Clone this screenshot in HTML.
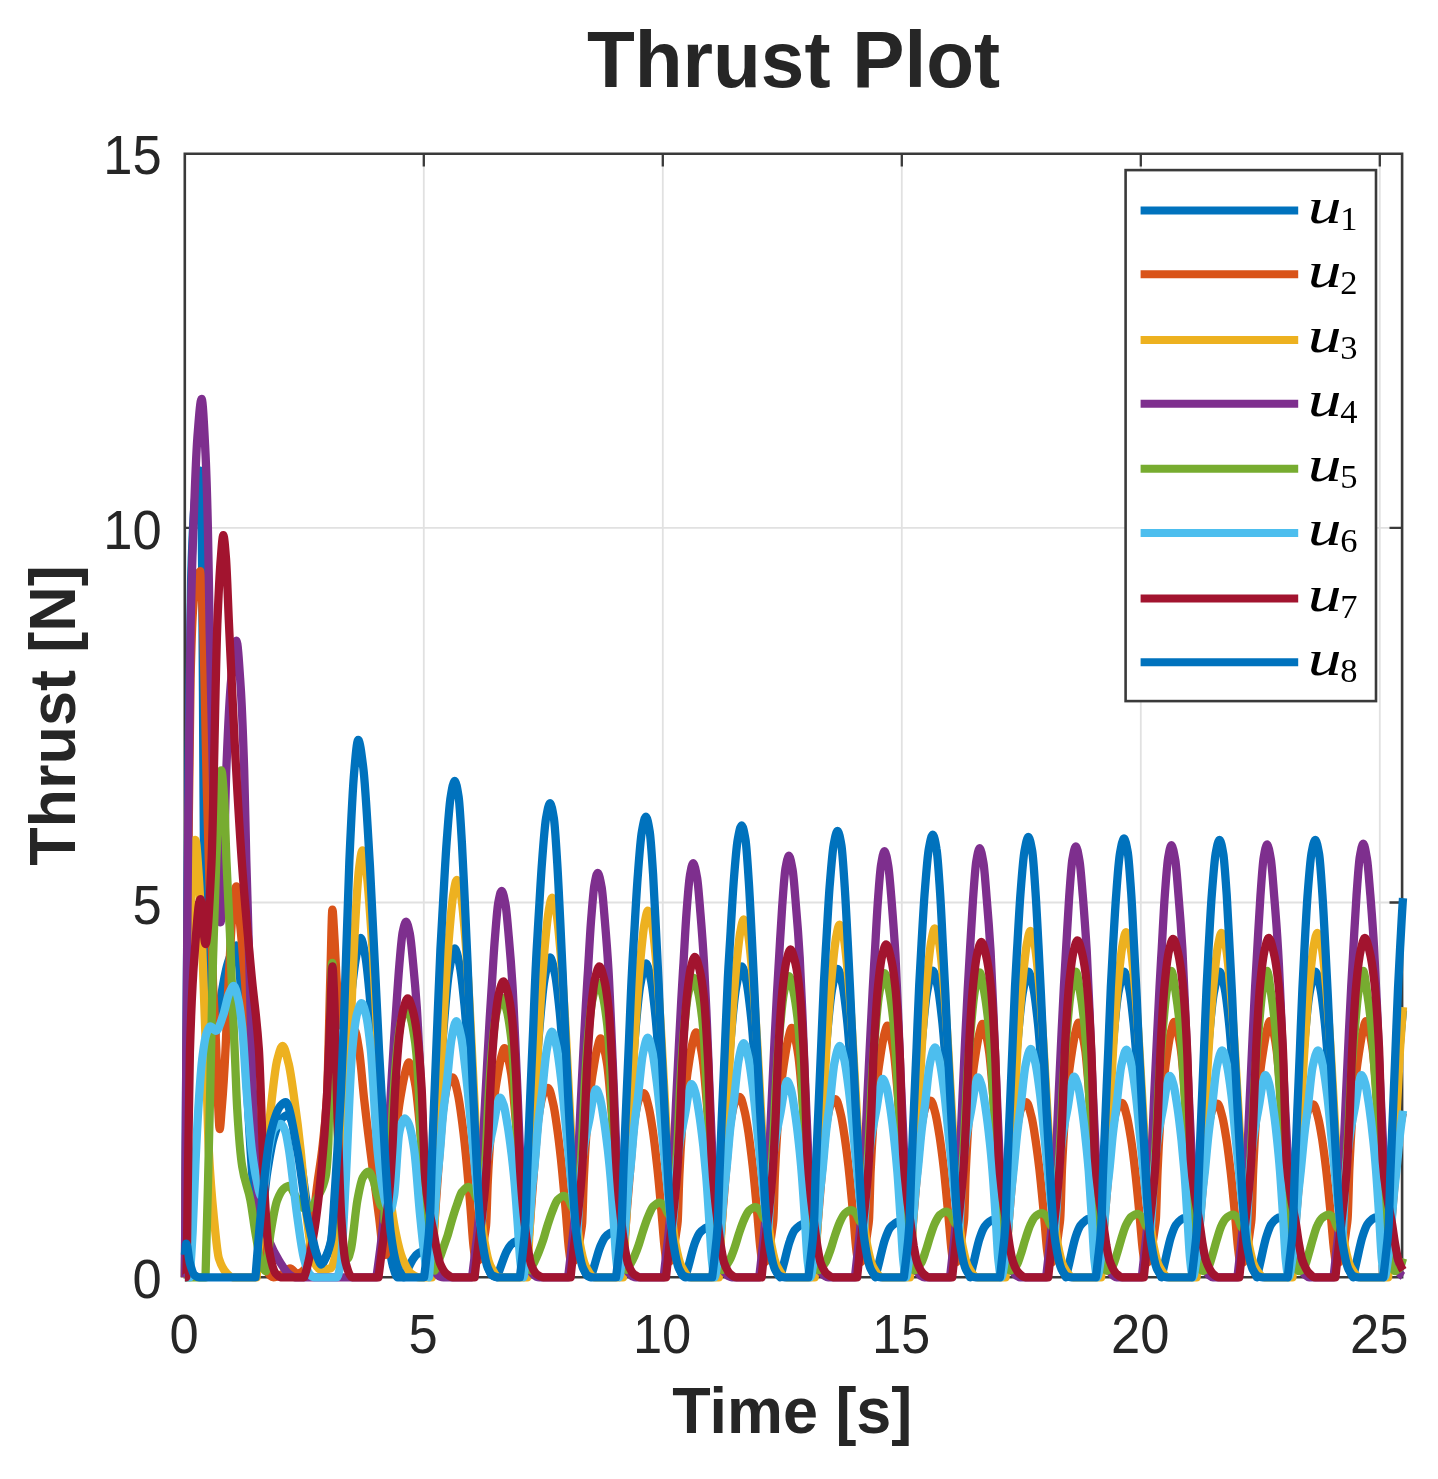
<!DOCTYPE html>
<html lang="en"><head><meta charset="utf-8"><title>Thrust Plot</title>
<style>
html,body{margin:0;padding:0;background:#fff;}
body{width:1438px;height:1479px;overflow:hidden;}
svg{display:block;}
.sans{font-family:"Liberation Sans",Arial,Helvetica,sans-serif;}
.tick{font-size:52.5px;fill:#262626;}
.lab{font-size:62.9px;font-weight:bold;fill:#262626;}
.title{font-size:78.3px;font-weight:bold;fill:#262626;}
.leg{font-family:"Liberation Serif","Times New Roman",serif;font-style:italic;font-size:50.5px;fill:#000;}
.sub{font-family:"Liberation Serif","Times New Roman",serif;font-size:34.5px;fill:#000;}
.curves path{fill:none;stroke-width:8.3;stroke-linejoin:round;stroke-linecap:butt;}
</style></head><body>
<svg width="1438" height="1479" viewBox="0 0 1438 1479">
<rect x="0" y="0" width="1438" height="1479" fill="#fff"/>
<path d="M423.8 153.8V1277.2M662.8 153.8V1277.2M901.8 153.8V1277.2M1140.8 153.8V1277.2M1379.8 153.8V1277.2M184.8 902.5H1402.1M184.8 527.9H1402.1" stroke="#e1e1e1" stroke-width="1.8" fill="none"/>
<path id="ticks" d="M423.8 153.8v12.6M423.8 1277.2v-12.6M662.8 153.8v12.6M662.8 1277.2v-12.6M901.8 153.8v12.6M901.8 1277.2v-12.6M1140.8 153.8v12.6M1140.8 1277.2v-12.6M1379.8 153.8v12.6M1379.8 1277.2v-12.6M184.8 902.5h12.6M1402.1 902.5h-12.6M184.8 527.9h12.6M1402.1 527.9h-12.6" stroke="#3a3a3a" stroke-width="2.3" fill="none"/>
<path id="axes" d="M184.8 153.8H1402.1V1277.2H184.8Z" stroke="#3a3a3a" stroke-width="2.6" fill="none"/>
<g class="curves">
<path d="M184.9 1277.3C185.4 1196.8 185.9 1119.8 186.3 1052.6C187.1 940.6 187.9 826 188.7 753.1C189.5 680.2 190.3 608.9 191.1 580.8C192.2 541.6 193.3 519 194.5 505.9C195.7 491 197 480.5 198.3 476C199 473.4 199.7 470.7 200.4 470.7C201 470.7 201.6 518.8 202.1 565.8C202.6 606.2 203.1 727.1 203.5 790.5C204.2 875.1 204.8 988.8 205.5 1007.7C206.6 1040.7 207.7 1060.1 208.8 1060.1C210.4 1060.1 212 1051.9 213.6 1045.1C215.3 1037.7 217.1 1020.2 218.8 1009.9C221.8 991.9 224.9 971.6 227.9 962.8C230.7 954.6 233.5 945.5 236.4 945.5C238.3 945.5 240.3 981.7 242.3 1007.7C243.9 1028.7 245.5 1063.9 247.1 1090.1C249 1121.5 250.9 1163 252.8 1179.9C254.4 1194 256 1209.9 257.6 1209.9C259.2 1209.9 260.8 1208.4 262.4 1206.2C264 1203.9 265.6 1182.3 267.2 1172.5C269.2 1159.7 271.3 1146.1 273.4 1138.8C275.8 1130.3 278.1 1122.8 280.5 1120C282.9 1117.3 285.3 1114.8 287.7 1114.8C291.4 1114.8 295 1134.1 298.7 1150C302.1 1164.5 305.4 1197.9 308.8 1216.6C311.1 1230 313.5 1243.8 315.9 1251.8C317 1255.6 318.2 1258.6 319.3 1260.8C320.1 1262.4 320.9 1264.6 321.7 1264.6C322.8 1264.6 323.9 1261.4 325 1259.3C326.1 1257.3 327.2 1255 328.4 1251.8C329.3 1249.2 330.3 1246.4 331.2 1241.4C332.5 1234.6 333.8 1216.8 335.1 1202.4C336.8 1182.6 338.6 1158.8 340.3 1135C342.4 1106.9 344.5 1070.2 346.5 1045.1C348.4 1022 350.4 1001.2 352.3 985.2C353.9 971.9 355.5 959.1 357.1 951.5C358.3 945.7 359.5 938 360.7 938C362.2 938 363.7 947.3 365.2 955.3C367.3 966.5 369.3 990.6 371.4 1015.2C373.8 1043.6 376.2 1094.2 378.6 1127.5C381 1160.8 383.4 1196.3 385.7 1217.4C388.1 1238.4 390.5 1258 392.9 1266.1C394.5 1271.5 396.1 1277.3 397.7 1277.3L403.7 1277.3C404.7 1275.3 405.7 1273.2 406.8 1271.2C408.9 1267 411.1 1261.8 413.2 1258.8C414.8 1256.6 416.4 1254.5 418 1253.5C419.6 1252.4 421.2 1251.7 422.8 1251.2C423.9 1250.8 425 1250.3 426.2 1250.3C427.4 1250.3 428.7 1251.1 430 1251.1C432.7 1251.1 435.4 1156.9 438.1 1112.9C439.9 1084.4 441.6 1052.6 443.4 1030.7C445.3 1006.9 447.2 982.6 449.1 971.5C451 960.5 452.9 948.5 454.8 948.5C456.4 948.5 458 957.2 459.6 965C461.2 972.7 462.8 988.3 464.4 1004.4C466 1020.5 467.6 1048.2 469.2 1066.9C470.6 1083.7 472.1 1096.1 473.5 1112.9C474.8 1127.9 476 1142.8 477.3 1162.2C478.1 1174.4 478.9 1195 479.7 1205.6C480.8 1220.5 481.9 1232.4 483.1 1240.1C485 1253.4 486.9 1262.7 488.8 1268.8C489.6 1271.3 490.4 1274 491.2 1274.7C493.1 1276.3 495 1277.3 496.9 1277.3C497.9 1274.5 499 1271.7 500 1268.9C502.1 1263.2 504.3 1256 506.4 1251.9C508 1248.8 509.6 1246 511.2 1244.5C512.8 1243.1 514.4 1242.1 516 1241.4C517.1 1240.9 518.2 1240.2 519.4 1240.2C520.6 1240.2 521.9 1241.3 523.2 1241.3C526.6 1241.3 530 1163.9 533.4 1117.4C535.2 1093.5 536.9 1058.7 538.7 1037.5C540.6 1014.3 542.5 990.6 544.4 979.9C546.3 969.2 548.2 957.5 550.1 957.5C551.7 957.5 553.3 966 554.9 973.5C556.5 981 558.1 996.2 559.7 1011.9C561.3 1027.6 562.9 1054.4 564.5 1072.6C565.9 1089 567.4 1101.1 568.8 1117.4C570.1 1131.9 571.3 1146.4 572.6 1165.4C573.4 1177.2 574.2 1197.2 575 1207.6C576.1 1222.1 577.2 1233.6 578.4 1241.2C580.3 1254.1 582.2 1263.1 584.1 1269C584.9 1271.4 585.7 1274 586.5 1274.7C588 1276.2 589.4 1277.3 590.9 1277.3C592 1273.8 593 1270.4 594 1267C596.2 1259.9 598.3 1251.1 600.5 1246C602.1 1242.2 603.7 1238.7 605.3 1236.9C606.9 1235.1 608.5 1234 610 1233.1C611.2 1232.5 612.3 1231.6 613.4 1231.6C614.7 1231.6 615.9 1233 617.2 1233C621.2 1233 625.2 1167.9 629.2 1120.4C631 1099.6 632.8 1062.8 634.5 1042C636.4 1019.2 638.3 996 640.2 985.5C642.2 974.9 644.1 963.5 646 963.5C647.6 963.5 649.2 971.8 650.8 979.2C652.4 986.6 654 1001.5 655.5 1016.9C657.1 1032.2 658.7 1058.6 660.3 1076.5C661.8 1092.5 663.2 1104.4 664.6 1120.4C665.9 1134.7 667.2 1148.9 668.5 1167.5C669.3 1179.1 670 1198.7 670.8 1208.9C672 1223.1 673.1 1234.5 674.2 1241.8C676.1 1254.5 678 1263.4 679.9 1269.1C680.7 1271.5 681.5 1273.8 682.3 1274.8C683.3 1276.1 684.3 1277.3 685.4 1277.3C686.4 1273.5 687.4 1269.7 688.5 1266C690.6 1258.2 692.8 1248.5 694.9 1242.9C696.5 1238.8 698.1 1234.9 699.7 1232.9C701.3 1231 702.9 1229.7 704.5 1228.7C705.6 1228 706.7 1227.1 707.8 1227.1C709.1 1227.1 710.4 1228.6 711.7 1228.6C716.1 1228.6 720.6 1170.2 725 1121.9C726.8 1102.9 728.5 1064.9 730.3 1044.2C732.2 1021.7 734.1 998.7 736 988.3C737.9 977.8 739.9 966.5 741.8 966.5C743.4 966.5 745 974.7 746.5 982C748.1 989.4 749.7 1004.1 751.3 1019.3C752.9 1034.6 754.5 1060.7 756.1 1078.4C757.5 1094.3 759 1106 760.4 1121.9C761.7 1136 763 1150.1 764.2 1168.5C765 1180 765.8 1199.5 766.6 1209.5C767.7 1223.6 768.9 1234.9 770 1242.2C771.9 1254.7 773.8 1263.5 775.7 1269.2C776.5 1271.6 777.3 1273.6 778.1 1274.8C778.8 1275.9 779.6 1276.9 780.3 1277.3C781.3 1273.3 782.4 1269.2 783.4 1265.3C785.6 1257 787.7 1246.8 789.9 1240.9C791.4 1236.5 793 1232.4 794.6 1230.3C796.2 1228.2 797.8 1226.9 799.4 1225.8C800.5 1225.1 801.6 1224.1 802.8 1224.1C804 1224.1 805.3 1225.7 806.6 1225.7C811.4 1225.7 816.1 1171.6 820.9 1123C822.7 1105.2 824.4 1066.4 826.2 1045.9C828.1 1023.5 830 1000.7 831.9 990.4C833.8 980 835.7 968.8 837.6 968.8C839.2 968.8 840.8 976.9 842.4 984.2C844 991.4 845.6 1006.1 847.2 1021.2C848.8 1036.3 850.4 1062.3 852 1079.8C853.4 1095.6 854.9 1107.3 856.3 1123C857.6 1137 858.8 1151 860.1 1169.3C860.9 1180.7 861.7 1200 862.5 1210C863.6 1224 864.7 1235.2 865.9 1242.4C867.8 1254.9 869.7 1263.6 871.6 1269.3C872.4 1271.6 873.2 1273.3 874 1274.8C874.5 1275.8 874.9 1276.6 875.4 1277.3C876.4 1273.1 877.5 1268.9 878.5 1264.8C880.7 1256.2 882.8 1245.5 885 1239.3C886.6 1234.8 888.2 1230.5 889.7 1228.3C891.3 1226.1 892.9 1224.7 894.5 1223.7C895.6 1222.9 896.8 1221.9 897.9 1221.9C899.2 1221.9 900.4 1223.5 901.7 1223.5C906.5 1223.5 911.3 1171.6 916.1 1124C917.8 1106.5 919.6 1067.7 921.3 1047.3C923.2 1025.1 925.2 1002.4 927.1 992.1C929 981.8 930.9 970.6 932.8 970.6C934.4 970.6 936 978.7 937.6 986C939.2 993.2 940.8 1007.7 942.4 1022.8C944 1037.8 945.6 1063.6 947.2 1081C948.6 1096.7 950 1108.3 951.5 1124C952.7 1137.9 954 1151.8 955.3 1170C956.1 1181.3 956.9 1200.5 957.7 1210.4C958.8 1224.3 959.9 1235.4 961 1242.6C962.9 1255 964.8 1263.7 966.8 1269.3C967.6 1271.7 968.4 1272.9 969.1 1274.8C969.5 1275.6 969.8 1276.5 970.1 1277.3C971.2 1273 972.2 1268.6 973.2 1264.4C975.4 1255.5 977.5 1244.4 979.7 1238.1C981.3 1233.3 982.9 1228.9 984.5 1226.7C986.1 1224.4 987.7 1223 989.2 1221.8C990.4 1221.1 991.5 1220 992.6 1220C993.9 1220 995.1 1221.7 996.4 1221.7C1001.5 1221.7 1006.6 1172.7 1011.7 1124.5C1013.5 1108 1015.2 1068.4 1017 1048.1C1018.9 1026 1020.8 1003.4 1022.7 993.1C1024.6 982.9 1026.5 971.7 1028.4 971.7C1030 971.7 1031.6 979.8 1033.2 987C1034.8 994.2 1036.4 1008.7 1038 1023.7C1039.6 1038.7 1041.2 1064.4 1042.8 1081.7C1044.2 1097.4 1045.7 1108.9 1047.1 1124.5C1048.4 1138.4 1049.6 1152.3 1050.9 1170.4C1051.7 1181.7 1052.5 1200.8 1053.3 1210.7C1054.4 1224.5 1055.5 1235.6 1056.7 1242.8C1058.6 1255.1 1060.5 1263.7 1062.4 1269.4C1063.2 1271.7 1064 1273.1 1064.8 1274.9C1065.2 1275.7 1065.6 1276.5 1066 1277.3C1067 1272.9 1068 1268.5 1069.1 1264.1C1071.2 1255 1073.4 1243.8 1075.5 1237.3C1077.1 1232.5 1078.7 1228 1080.3 1225.7C1081.9 1223.4 1083.5 1221.9 1085.1 1220.8C1086.2 1220 1087.3 1218.9 1088.4 1218.9C1089.7 1218.9 1091 1220.6 1092.3 1220.6C1097.3 1220.6 1102.3 1172 1107.3 1124.5C1109.1 1107.9 1110.9 1068.4 1112.6 1048.1C1114.5 1026 1116.4 1003.4 1118.3 993.1C1120.3 982.9 1122.2 971.7 1124.1 971.7C1125.7 971.7 1127.3 979.8 1128.9 987C1130.5 994.2 1132.1 1008.7 1133.6 1023.7C1135.2 1038.7 1136.8 1064.4 1138.4 1081.7C1139.9 1097.4 1141.3 1108.9 1142.7 1124.5C1144 1138.4 1145.3 1152.3 1146.6 1170.4C1147.4 1181.7 1148.2 1200.8 1149 1210.7C1150.1 1224.5 1151.2 1235.6 1152.3 1242.8C1154.2 1255.1 1156.1 1263.7 1158 1269.4C1158.8 1271.7 1159.6 1273 1160.4 1274.9C1160.8 1275.7 1161.1 1276.5 1161.4 1277.3C1162.5 1272.8 1163.5 1268.3 1164.5 1263.9C1166.7 1254.8 1168.8 1243.4 1171 1236.8C1172.6 1231.9 1174.2 1227.3 1175.8 1225C1177.4 1222.7 1179 1221.2 1180.6 1220C1181.7 1219.2 1182.8 1218.1 1183.9 1218.1C1185.2 1218.1 1186.5 1219.9 1187.7 1219.9C1192.8 1219.9 1197.8 1171.8 1202.8 1124.5C1204.6 1108 1206.4 1068.4 1208.1 1048.1C1210 1026 1211.9 1003.4 1213.8 993.1C1215.8 982.9 1217.7 971.7 1219.6 971.7C1221.2 971.7 1222.8 979.8 1224.4 987C1226 994.2 1227.6 1008.7 1229.1 1023.7C1230.7 1038.7 1232.3 1064.4 1233.9 1081.7C1235.4 1097.4 1236.8 1108.9 1238.2 1124.5C1239.5 1138.4 1240.8 1152.3 1242.1 1170.4C1242.9 1181.7 1243.7 1200.8 1244.4 1210.7C1245.6 1224.5 1246.7 1235.6 1247.8 1242.8C1249.7 1255.1 1251.6 1263.7 1253.5 1269.4C1254.3 1271.7 1255.1 1272.9 1255.9 1274.9C1256.2 1275.6 1256.6 1276.5 1256.9 1277.3C1257.9 1272.8 1259 1268.2 1260 1263.8C1262.2 1254.5 1264.3 1242.9 1266.5 1236.3C1268.1 1231.3 1269.7 1226.7 1271.2 1224.3C1272.8 1222 1274.4 1220.5 1276 1219.3C1277.1 1218.5 1278.3 1217.4 1279.4 1217.4C1280.7 1217.4 1281.9 1219.2 1283.2 1219.2C1288.3 1219.2 1293.5 1172 1298.6 1124.5C1300.4 1108.3 1302.1 1068.4 1303.9 1048.1C1305.8 1026 1307.7 1003.4 1309.6 993.1C1311.5 982.9 1313.5 971.7 1315.4 971.7C1317 971.7 1318.6 979.8 1320.1 987C1321.7 994.2 1323.3 1008.7 1324.9 1023.7C1326.5 1038.7 1328.1 1064.4 1329.7 1081.7C1331.1 1097.4 1332.6 1108.9 1334 1124.5C1335.3 1138.4 1336.6 1152.3 1337.8 1170.4C1338.6 1181.7 1339.4 1200.8 1340.2 1210.7C1341.3 1224.5 1342.5 1235.6 1343.6 1242.8C1345.5 1255.1 1347.4 1263.7 1349.3 1269.4C1350.1 1271.7 1350.9 1273.2 1351.7 1274.9C1352.1 1275.7 1352.6 1276.6 1353 1277.3C1354.1 1272.8 1355.1 1268.2 1356.1 1263.8C1358.3 1254.5 1360.4 1242.9 1362.6 1236.3C1364.2 1231.3 1365.8 1226.7 1367.4 1224.3C1369 1222 1370.6 1220.5 1372.1 1219.3C1373.3 1218.5 1374.4 1217.4 1375.5 1217.4C1376.8 1217.4 1378 1219.2 1379.3 1219.2C1384.3 1219.2 1389.3 1171.4 1394.3 1124.5C1396 1108 1397.8 1068.4 1399.5 1048.1C1400.7 1034.7 1401.8 1021.2 1403 1010.3" stroke="#0072BD"/>
<path d="M184.9 1277.3C185.5 1202.4 186.2 1127.5 186.8 1052.6C187.5 977.7 188.1 887.9 188.7 828C189.4 768 190 705.1 190.6 678.2C191.4 644.6 192.2 621.9 193 610.8C194.3 592.9 195.6 580.8 196.9 577.1C198 573.8 199.1 571.1 200.2 571.1C201.1 571.1 202 597.4 202.9 619.8C204.2 651.6 205.5 736.1 206.8 786.8C207.5 813 208.1 838.2 208.8 860.2C210.2 907.3 211.7 951.4 213.1 985.2C214.2 1010.4 215.2 1022.6 216.3 1049.6C216.8 1062.9 217.4 1088.3 217.9 1099.8C218.5 1112.7 219.1 1129 219.7 1129C220.4 1129 221 1116.9 221.7 1108.8C223 1093.8 224.3 1074.5 225.5 1049.6C226.1 1039.1 226.6 1021.9 227.2 1009.9C228.2 986.7 229.3 966 230.3 947.8C231.1 934 231.9 917.9 232.7 910.3C233.9 898.8 235.1 886.4 236.4 886.4C237.2 886.4 238 901.8 238.8 910.3C240.8 930.4 242.7 951.4 244.7 977C247.1 1008.5 249.5 1052.5 251.8 1090.1C254.2 1127.6 256.6 1174.3 259 1202.4C261.4 1230.5 263.8 1265.3 266.2 1269.8C268.6 1274.3 271 1277.3 273.4 1277.3C276.6 1277.3 279.7 1275.2 282.9 1273.6C285.3 1272.3 287.7 1268.3 290.1 1268.3C292.5 1268.3 294.9 1273.6 297.3 1273.6C299.7 1273.6 302.1 1272.1 304.4 1269.8C306.8 1267.5 309.2 1248 311.6 1232.4C313.5 1219.9 315.4 1198.4 317.4 1183.7C319 1171.4 320.5 1163.7 322.1 1150C323.7 1136.3 325.3 1125.2 326.9 1097.6C328 1078.2 329.2 1015.5 330.3 977.7C331 954 331.7 909.6 332.4 909.6C333.1 909.6 333.8 928.3 334.6 940.3C335.2 950.7 335.9 968.1 336.5 977.7C337.8 997 339 1020 340.3 1022.7C342.7 1027.7 345.1 1030.2 347.5 1030.2C349.9 1030.2 352.3 1030.2 354.7 1030.2C356.1 1030.2 357.5 1040.9 359 1049.6C360.7 1060.3 362.5 1084.3 364.2 1099.8C366.9 1123.8 369.6 1145.3 372.4 1166.5C374.6 1183.9 376.8 1199.3 379 1216.6C380.5 1227.8 381.9 1247.6 383.4 1251.1C384.2 1253.1 384.9 1254.8 385.7 1254.8C386 1254.8 386.2 1253.2 386.5 1252.2C387.4 1248.1 388.4 1242.4 389.3 1236.5C389.7 1234 390.1 1232.4 390.5 1228.3C391.1 1222.5 391.6 1198.1 392.2 1187.5C393.2 1169.2 394.1 1155.4 395.1 1144C396.3 1128.9 397.6 1117 398.9 1107.5C400 1099.1 401.2 1092.7 402.3 1086.7C403.4 1080.8 404.5 1074.6 405.6 1071C406.7 1067.2 407.8 1062.4 408.9 1062.4C410.1 1062.4 411.2 1067.3 412.3 1071C413.4 1074.7 414.5 1079.7 415.6 1086.7C416.9 1094.6 418.2 1109.7 419.5 1122.5C420.6 1133.8 421.7 1146.2 422.8 1159.1C423.7 1169.2 424.6 1180.6 425.4 1191.3C426.3 1202.1 427.2 1215.7 428.1 1223.6C428.9 1230.8 429.7 1240.8 430.5 1240.8C431.3 1240.8 432 1239.3 432.8 1237.3C434 1234.6 435.1 1213.2 436.2 1199.3C437.3 1185.4 438.4 1167.7 439.5 1153.3C440.8 1137 442.1 1116.5 443.4 1107.3C445 1095.9 446.6 1086.6 448.1 1083.3C449.7 1080.2 451.2 1077.3 452.7 1077.3C454.4 1077.3 456.1 1086.2 457.7 1093.3C459 1098.8 460.3 1108.1 461.5 1117.3C462.9 1127.4 464.3 1139.7 465.7 1153.3C467.3 1169.3 469 1189.9 470.6 1209.3C471.6 1221.5 472.6 1238.7 473.6 1247.3C474.3 1252.7 474.9 1259.7 475.5 1259.9C476.5 1260.2 477.4 1260.3 478.3 1260.3C479.5 1260.3 480.8 1255.1 482.1 1250.5C483 1247 484 1240 484.9 1233.8C485.3 1231.1 485.7 1229.4 486.1 1225.1C486.7 1218.9 487.2 1192.9 487.8 1181.5C488.7 1162.1 489.7 1147.3 490.7 1135.2C491.9 1119.1 493.2 1106.4 494.5 1096.3C495.6 1087.3 496.8 1080.5 497.9 1074C499 1067.8 500.1 1061.2 501.2 1057.3C502.3 1053.3 503.4 1048.1 504.5 1048.1C505.6 1048.1 506.8 1053.4 507.9 1057.3C509 1061.3 510.1 1066.6 511.2 1074C512.5 1082.5 513.8 1098.6 515 1112.3C516.2 1124.3 517.3 1137.5 518.4 1151.3C519.3 1162.1 520.2 1174.2 521 1185.6C521.9 1197.1 522.8 1211.6 523.7 1220C524.5 1227.7 525.3 1237.6 526 1238.3C526.7 1239 527.5 1239.4 528.2 1239.4C529.3 1239.4 530.4 1216.5 531.5 1203.4C532.6 1190.3 533.7 1173.4 534.8 1159.8C536.1 1144.3 537.4 1124.9 538.7 1116.2C540.3 1105.4 541.9 1096.6 543.5 1093.5C545 1090.5 546.5 1087.8 548 1087.8C549.7 1087.8 551.4 1096.2 553 1103C554.3 1108.2 555.6 1117 556.8 1125.7C558.2 1135.3 559.6 1146.9 561 1159.8C562.6 1175 564.3 1194.4 565.9 1212.9C566.9 1224.4 567.9 1240.8 568.9 1248.9C569.6 1254 570.2 1260.6 570.9 1260.8C571.8 1261.1 572.7 1261.2 573.6 1261.2C575.1 1261.2 576.6 1255 578.1 1249.3C579.1 1245.8 580 1238.5 581 1231.9C581.4 1229.2 581.8 1227.4 582.2 1222.8C582.7 1216.4 583.3 1189.3 583.9 1177.4C584.8 1157.2 585.8 1141.8 586.7 1129.2C588 1112.4 589.3 1099.1 590.6 1088.6C591.7 1079.2 592.8 1072.1 594 1065.4C595.1 1058.8 596.2 1052 597.3 1048C598.4 1043.8 599.5 1038.4 600.6 1038.4C601.7 1038.4 602.8 1043.8 603.9 1048C605.1 1052.1 606.2 1057.7 607.3 1065.4C608.6 1074.2 609.8 1091 611.1 1105.3C612.2 1117.8 613.4 1131.6 614.5 1145.9C615.3 1157.2 616.2 1169.8 617.1 1181.7C618 1193.7 618.9 1208.8 619.7 1217.6C620.5 1225.6 621.3 1234.2 622.1 1236.7C622.7 1238.6 623.4 1240.5 624 1240.5C625.1 1240.5 626.2 1218.2 627.3 1205.5C628.4 1192.7 629.6 1176.3 630.7 1163.1C632 1148 633.2 1129.2 634.5 1120.7C636.1 1110.1 637.7 1101.6 639.3 1098.6C640.8 1095.7 642.3 1093.1 643.9 1093.1C645.5 1093.1 647.2 1101.2 648.8 1107.8C650.1 1112.9 651.4 1121.4 652.7 1129.9C654.1 1139.2 655.4 1150.5 656.8 1163.1C658.5 1177.8 660.1 1196.7 661.7 1214.7C662.7 1225.9 663.8 1241.8 664.8 1249.7C665.4 1254.6 666 1261.1 666.7 1261.3C667.6 1261.5 668.5 1261.6 669.4 1261.6C670.8 1261.6 672.2 1254.6 673.6 1248.6C674.6 1244.6 675.5 1237.5 676.5 1230.8C676.9 1228 677.3 1226.2 677.7 1221.5C678.2 1214.9 678.8 1187.1 679.4 1174.9C680.3 1154.2 681.3 1138.4 682.2 1125.5C683.5 1108.3 684.8 1094.7 686.1 1083.8C687.2 1074.2 688.3 1067 689.4 1060.1C690.5 1053.4 691.6 1046.4 692.7 1042.2C693.9 1038 695 1032.4 696.1 1032.4C697.2 1032.4 698.3 1038 699.4 1042.2C700.6 1046.4 701.7 1052.2 702.8 1060.1C704.1 1069.1 705.3 1086.3 706.6 1101C707.7 1113.8 708.8 1127.9 710 1142.6C710.8 1154.2 711.7 1167.1 712.6 1179.3C713.5 1191.6 714.3 1207.1 715.2 1216.1C716 1224.3 716.8 1232.6 717.6 1235.7C718.3 1238.5 719 1241.2 719.8 1241.2C720.9 1241.2 722 1219.4 723.1 1206.9C724.2 1194.4 725.3 1178.3 726.5 1165.4C727.7 1150.6 729 1132.2 730.3 1123.9C731.9 1113.5 733.5 1105.2 735.1 1102.2C736.6 1099.4 738.1 1096.8 739.7 1096.8C741.3 1096.8 743 1104.8 744.6 1111.3C745.9 1116.2 747.2 1124.6 748.5 1132.9C749.8 1142 751.2 1153.1 752.6 1165.4C754.2 1179.8 755.9 1198.4 757.5 1215.9C758.5 1227 759.5 1242.5 760.6 1250.2C761.2 1255.1 761.8 1261.4 762.5 1261.6C763.4 1261.8 764.3 1262 765.2 1262C766.6 1262 767.9 1254.2 769.3 1248.1C770.2 1243.8 771.2 1236.8 772.1 1229.9C772.5 1227.1 772.9 1225.2 773.3 1220.4C773.9 1213.7 774.4 1185.4 775 1173.1C776 1151.9 776.9 1135.8 777.9 1122.7C779.1 1105.2 780.4 1091.3 781.7 1080.3C782.8 1070.5 784 1063.1 785.1 1056.1C786.2 1049.3 787.3 1042.2 788.4 1037.9C789.5 1033.6 790.6 1027.9 791.7 1027.9C792.9 1027.9 794 1033.6 795.1 1037.9C796.2 1042.2 797.3 1048.1 798.4 1056.1C799.7 1065.3 801 1082.8 802.3 1097.7C803.4 1110.8 804.5 1125.2 805.6 1140.1C806.5 1151.9 807.4 1165.1 808.2 1177.5C809.1 1190 810 1205.8 810.9 1215C811.7 1223.3 812.5 1231.5 813.3 1234.9C814.1 1238.3 814.8 1241.7 815.6 1241.7C816.8 1241.7 817.9 1220.2 819 1207.8C820.1 1195.4 821.2 1179.6 822.3 1166.8C823.6 1152.2 824.9 1134 826.2 1125.8C827.8 1115.6 829.4 1107.3 830.9 1104.4C832.5 1101.6 834 1099.1 835.5 1099.1C837.2 1099.1 838.9 1106.9 840.5 1113.3C841.8 1118.2 843.1 1126.5 844.3 1134.7C845.7 1143.7 847.1 1154.6 848.5 1166.8C850.1 1181 851.7 1199.4 853.4 1216.7C854.4 1227.6 855.4 1242.9 856.4 1250.6C857.1 1255.3 857.7 1261.6 858.3 1261.8C859.3 1262 860.2 1262.1 861.1 1262.1C862.4 1262.1 863.6 1254 864.9 1247.9C865.9 1243.3 866.8 1236.4 867.8 1229.5C868.2 1226.6 868.6 1224.8 869 1219.9C869.5 1213.2 870.1 1184.6 870.6 1172.1C871.6 1150.8 872.6 1134.5 873.5 1121.3C874.8 1103.6 876.1 1089.6 877.3 1078.5C878.5 1068.7 879.6 1061.2 880.7 1054.1C881.8 1047.2 882.9 1040 884 1035.7C885.1 1031.4 886.3 1025.7 887.4 1025.7C888.5 1025.7 889.6 1031.4 890.7 1035.7C891.8 1040.1 893 1046 894.1 1054.1C895.3 1063.4 896.6 1081 897.9 1096.1C899 1109.3 900.1 1123.8 901.2 1138.9C902.1 1150.8 903 1164.1 903.9 1176.6C904.8 1189.2 905.6 1205.1 906.5 1214.4C907.3 1222.8 908.1 1230.3 908.9 1234.5C909.5 1237.9 910.2 1242 910.8 1242C911.9 1242 913 1220.6 914.2 1208.4C915.3 1196.1 916.4 1180.4 917.5 1167.7C918.8 1153.2 920.1 1135.2 921.3 1127.1C922.9 1116.9 924.5 1108.8 926.1 1105.9C927.6 1103.1 929.2 1100.6 930.7 1100.6C932.4 1100.6 934 1108.4 935.7 1114.7C936.9 1119.6 938.2 1127.7 939.5 1135.9C940.9 1144.8 942.3 1155.7 943.7 1167.7C945.3 1181.8 946.9 1200 948.5 1217.2C949.6 1228 950.6 1243.2 951.6 1250.8C952.2 1255.5 952.9 1261.8 953.5 1261.9C954.4 1262.2 955.3 1262.3 956.2 1262.3C957.5 1262.3 958.8 1253.8 960.1 1247.6C961 1243 962 1236.1 962.9 1229.1C963.3 1226.2 963.7 1224.4 964.1 1219.5C964.7 1212.7 965.2 1183.9 965.8 1171.3C966.8 1149.8 967.7 1133.5 968.7 1120.1C969.9 1102.3 971.2 1088.2 972.5 1077C973.6 1067.1 974.8 1059.6 975.9 1052.4C977 1045.5 978.1 1038.3 979.2 1033.9C980.3 1029.5 981.4 1023.8 982.5 1023.8C983.7 1023.8 984.8 1029.6 985.9 1033.9C987 1038.3 988.1 1044.3 989.2 1052.4C990.5 1061.8 991.8 1079.6 993.1 1094.8C994.2 1108.1 995.3 1122.6 996.4 1137.9C997.3 1149.8 998.2 1163.2 999 1175.9C999.9 1188.6 1000.8 1204.6 1001.7 1213.9C1002.5 1222.4 1003.3 1230.4 1004.1 1234.2C1004.9 1238 1005.7 1242.3 1006.4 1242.3C1007.6 1242.3 1008.7 1221.1 1009.8 1209C1010.9 1196.8 1012 1181.2 1013.1 1168.6C1014.4 1154.3 1015.7 1136.4 1017 1128.3C1018.6 1118.3 1020.2 1110.2 1021.8 1107.3C1023.3 1104.5 1024.8 1102.1 1026.3 1102.1C1028 1102.1 1029.7 1109.8 1031.3 1116.1C1032.6 1120.9 1033.9 1129 1035.1 1137.1C1036.5 1145.9 1037.9 1156.7 1039.3 1168.6C1040.9 1182.7 1042.6 1200.7 1044.2 1217.7C1045.2 1228.4 1046.2 1243.5 1047.2 1251C1047.9 1255.7 1048.5 1261.9 1049.2 1262.1C1050.1 1262.3 1051 1262.4 1051.9 1262.4C1053.3 1262.4 1054.7 1254.1 1056.2 1247.5C1057.1 1243.1 1058.1 1235.9 1059 1228.9C1059.4 1226 1059.8 1224.1 1060.2 1219.2C1060.8 1212.4 1061.4 1183.5 1061.9 1170.9C1062.9 1149.3 1063.8 1132.8 1064.8 1119.4C1066.1 1101.5 1067.3 1087.4 1068.6 1076.1C1069.7 1066.2 1070.9 1058.6 1072 1051.4C1073.1 1044.5 1074.2 1037.2 1075.3 1032.9C1076.4 1028.4 1077.5 1022.7 1078.7 1022.7C1079.8 1022.7 1080.9 1028.5 1082 1032.9C1083.1 1037.2 1084.2 1043.2 1085.4 1051.4C1086.6 1060.8 1087.9 1078.7 1089.2 1094C1090.3 1107.3 1091.4 1122 1092.5 1137.3C1093.4 1149.3 1094.3 1162.7 1095.2 1175.4C1096 1188.2 1096.9 1204.3 1097.8 1213.6C1098.6 1222.2 1099.4 1229.5 1100.2 1234C1100.8 1237.7 1101.4 1242.4 1102.1 1242.4C1103.2 1242.4 1104.3 1221.4 1105.4 1209.2C1106.6 1197.1 1107.7 1181.6 1108.8 1169.1C1110.1 1154.8 1111.3 1137 1112.6 1129C1114.2 1119 1115.8 1110.9 1117.4 1108C1118.9 1105.3 1120.5 1102.8 1122 1102.8C1123.6 1102.8 1125.3 1110.5 1127 1116.8C1128.2 1121.6 1129.5 1129.6 1130.8 1137.7C1132.2 1146.5 1133.6 1157.2 1134.9 1169.1C1136.6 1183.1 1138.2 1201 1139.8 1218C1140.8 1228.6 1141.9 1243.6 1142.9 1251.1C1143.5 1255.8 1144.2 1261.9 1144.8 1262.1C1145.7 1262.4 1146.6 1262.5 1147.5 1262.5C1149 1262.5 1150.4 1254.1 1151.8 1247.4C1152.8 1243 1153.7 1235.8 1154.7 1228.8C1155.1 1225.9 1155.5 1224 1155.9 1219.1C1156.4 1212.2 1157 1183.2 1157.6 1170.6C1158.5 1148.9 1159.5 1132.4 1160.4 1119C1161.7 1101 1163 1086.8 1164.3 1075.6C1165.4 1065.5 1166.5 1058 1167.6 1050.8C1168.7 1043.8 1169.8 1036.5 1170.9 1032.1C1172.1 1027.7 1173.2 1021.9 1174.3 1021.9C1175.4 1021.9 1176.5 1027.7 1177.6 1032.1C1178.8 1036.5 1179.9 1042.6 1181 1050.8C1182.3 1060.2 1183.5 1078.1 1184.8 1093.4C1185.9 1106.8 1187 1121.5 1188.2 1136.8C1189 1148.9 1189.9 1162.4 1190.8 1175.2C1191.7 1187.9 1192.5 1204.1 1193.4 1213.5C1194.2 1222 1195 1229 1195.8 1233.9C1196.4 1237.5 1197 1242.6 1197.6 1242.6C1198.7 1242.6 1199.8 1221.6 1200.9 1209.5C1202 1197.5 1203.2 1182 1204.3 1169.6C1205.6 1155.3 1206.8 1137.6 1208.1 1129.6C1209.7 1119.7 1211.3 1111.6 1212.9 1108.8C1214.4 1106 1215.9 1103.6 1217.5 1103.6C1219.1 1103.6 1220.8 1111.2 1222.5 1117.5C1223.7 1122.2 1225 1130.3 1226.3 1138.3C1227.7 1147 1229 1157.7 1230.4 1169.6C1232.1 1183.5 1233.7 1201.3 1235.3 1218.2C1236.3 1228.8 1237.4 1243.8 1238.4 1251.2C1239 1255.9 1239.6 1262 1240.3 1262.2C1241.2 1262.4 1242.1 1262.5 1243 1262.5C1244.5 1262.5 1246 1254.1 1247.5 1247.3C1248.4 1242.9 1249.4 1235.7 1250.3 1228.6C1250.7 1225.7 1251.1 1223.8 1251.5 1218.9C1252.1 1212 1252.6 1182.9 1253.2 1170.2C1254.2 1148.5 1255.1 1132 1256.1 1118.5C1257.3 1100.5 1258.6 1086.3 1259.9 1075C1261 1064.9 1262.2 1057.3 1263.3 1050.1C1264.4 1043.1 1265.5 1035.8 1266.6 1031.4C1267.7 1027 1268.8 1021.2 1269.9 1021.2C1271.1 1021.2 1272.2 1027 1273.3 1031.4C1274.4 1035.8 1275.5 1041.9 1276.6 1050.1C1277.9 1059.5 1279.2 1077.5 1280.5 1092.9C1281.6 1106.3 1282.7 1121 1283.8 1136.4C1284.7 1148.5 1285.6 1162 1286.4 1174.9C1287.3 1187.7 1288.2 1203.8 1289.1 1213.3C1289.9 1221.8 1290.7 1229 1291.5 1233.8C1292.1 1237.6 1292.7 1242.7 1293.4 1242.7C1294.5 1242.7 1295.6 1221.8 1296.7 1209.8C1297.8 1197.8 1298.9 1182.4 1300.1 1170C1301.3 1155.9 1302.6 1138.2 1303.9 1130.3C1305.5 1120.3 1307.1 1112.3 1308.7 1109.5C1310.2 1106.8 1311.7 1104.3 1313.3 1104.3C1314.9 1104.3 1316.6 1112 1318.2 1118.1C1319.5 1122.9 1320.8 1130.9 1322.1 1138.9C1323.4 1147.6 1324.8 1158.2 1326.2 1170C1327.8 1183.9 1329.5 1201.7 1331.1 1218.5C1332.1 1229 1333.1 1243.9 1334.2 1251.4C1334.8 1256 1335.4 1262.1 1336.1 1262.2C1337 1262.5 1337.9 1262.6 1338.8 1262.6C1340.4 1262.6 1342 1254.4 1343.6 1247.3C1344.5 1243.1 1345.5 1235.7 1346.4 1228.6C1346.8 1225.7 1347.2 1223.8 1347.6 1218.9C1348.2 1212 1348.8 1182.9 1349.3 1170.2C1350.3 1148.5 1351.2 1132 1352.2 1118.5C1353.5 1100.5 1354.7 1086.3 1356 1075C1357.1 1064.9 1358.3 1057.3 1359.4 1050.1C1360.5 1043.1 1361.6 1035.8 1362.7 1031.4C1363.8 1027 1364.9 1021.2 1366.1 1021.2C1367.2 1021.2 1368.3 1027 1369.4 1031.4C1370.5 1035.8 1371.6 1041.9 1372.7 1050.1C1374 1059.5 1375.3 1077.5 1376.6 1092.9C1377.7 1106.3 1378.8 1121 1379.9 1136.4C1380.8 1148.5 1381.7 1162 1382.6 1174.9C1383.4 1187.7 1384.3 1203.8 1385.2 1213.3C1386 1221.8 1386.8 1228.1 1387.6 1233.8C1388.1 1237.2 1388.5 1242.7 1389 1242.7C1390.1 1242.7 1391.2 1221.8 1392.4 1209.8C1393.5 1197.8 1394.6 1182.4 1395.7 1170C1397 1155.9 1398.3 1138.2 1399.5 1130.3C1400.7 1123.1 1401.8 1116.9 1403 1112.9" stroke="#D95319"/>
<path d="M184.9 1277.3C185.7 1206 186.5 1140.1 187.3 1090.1C188.4 1020 189.5 946.3 190.6 917.8C192.2 877.1 193.8 839.9 195.4 839.9C196.5 839.9 197.7 860.9 198.8 876.6C199.9 892.4 201 917.2 202.1 943.3C203.2 969.3 204.3 1003.5 205.5 1037.7C206.6 1071.8 207.7 1128 208.8 1150C210.5 1182.7 212.1 1199.7 213.8 1216.6C215.5 1233.9 217.2 1253.2 218.9 1258.6C221.6 1267.2 224.3 1271 227 1273.6C228.9 1275.3 230.8 1277.3 232.7 1277.3L256.6 1277.3C259 1245.8 261.4 1215.8 263.8 1187.4C266.2 1159.1 268.6 1127.9 271 1106.6C273 1088 275.1 1068.1 277.2 1060.1C279 1053.2 280.8 1045.9 282.6 1045.9C284.6 1045.9 286.6 1055.7 288.7 1063.9C290.6 1071.6 292.5 1086.3 294.4 1099.8C296.5 1114.4 298.6 1130.8 300.6 1150C302.7 1169.2 304.8 1200.8 306.8 1217.4C309.2 1236.5 311.6 1258 314 1262.3C316.4 1266.6 318.8 1269.8 321.2 1269.8C324.4 1269.8 327.6 1269.3 330.8 1268.3C332.8 1267.7 334.9 1258.3 337 1247.3C338.9 1237.2 340.8 1205.5 342.7 1179.9C344.3 1158.6 345.9 1136.1 347.5 1106.6C349.9 1062.3 352.3 975.9 354.7 932.8C356.1 907 357.5 880.3 359 869.1C360.1 860.1 361.3 850.4 362.5 850.4C363.8 850.4 365.2 862.5 366.6 872.9C368.5 887.2 370.4 919.3 372.4 947.8C374.9 985.8 377.5 1046.1 380 1082.6C382.7 1121.3 385.4 1156.2 388.1 1179.9C390.7 1202.3 393.2 1220.7 395.8 1233.1C398 1244 400.2 1253.2 402.5 1258.6C405.4 1265.5 408.2 1271.5 411.1 1273.6C413.8 1275.5 416.5 1277.3 419.2 1277.3L431.9 1277.3C433 1256.2 434.1 1233.7 435.2 1209.7C436.7 1178.9 438.1 1142.8 439.5 1110.4C441 1078 442.4 1041 443.8 1015C445.6 983.3 447.4 956.1 449.1 935.6C450.5 918.7 452 902 453.4 893.8C454.5 887.5 455.6 879.9 456.8 879.9C458.2 879.9 459.6 888.1 461.1 895.8C462.5 903.6 463.9 921.9 465.4 939.5C467 959.2 468.6 986.9 470.1 1015C471.7 1043.1 473.3 1080 474.9 1110.4C476.5 1140.8 478.1 1178.4 479.7 1197.8C481.3 1217.3 482.9 1232.3 484.5 1241.5C486.4 1252.6 488.3 1261.5 490.2 1265.4C493.4 1271.8 496.6 1277.3 499.8 1277.3L527.2 1277.3C528.3 1257.1 529.4 1235.6 530.5 1212.8C532 1183.3 533.4 1148.8 534.8 1117.8C536.3 1086.8 537.7 1051.5 539.2 1026.7C540.9 996.4 542.7 970.4 544.4 950.8C545.8 934.7 547.3 918.7 548.7 910.9C549.8 904.8 550.9 897.6 552.1 897.6C553.5 897.6 554.9 905.4 556.4 912.8C557.8 920.2 559.2 937.7 560.7 954.6C562.3 973.3 563.9 999.9 565.5 1026.7C567 1053.5 568.6 1088.8 570.2 1117.8C571.8 1146.9 573.4 1182.8 575 1201.4C576.6 1219.9 578.2 1234.3 579.8 1243.1C581.7 1253.7 583.6 1262.2 585.5 1265.9C588.7 1272 591.9 1277.3 595.1 1277.3L623 1277.3C624.1 1257.8 625.3 1237.1 626.4 1215C627.8 1186.6 629.2 1153.3 630.7 1123.3C632.1 1093.4 633.5 1059.3 635 1035.4C636.7 1006.1 638.5 981 640.2 962C641.7 946.5 643.1 931.1 644.5 923.5C645.7 917.7 646.8 910.7 647.9 910.7C649.3 910.7 650.8 918.2 652.2 925.4C653.6 932.5 655.1 949.4 656.5 965.7C658.1 983.8 659.7 1009.4 661.3 1035.4C662.9 1061.3 664.5 1095.3 666.1 1123.3C667.7 1151.4 669.3 1186.1 670.8 1204C672.4 1221.9 674 1235.8 675.6 1244.3C677.5 1254.5 679.5 1262.8 681.4 1266.3C684.6 1272.2 687.7 1277.3 690.9 1277.3L718.8 1277.3C719.9 1258.3 721 1238 722.2 1216.4C723.6 1188.7 725 1156.2 726.5 1127C727.9 1097.7 729.3 1064.4 730.8 1041C732.5 1012.5 734.3 988 736 969.4C737.5 954.3 738.9 939.2 740.3 931.9C741.4 926.1 742.6 919.3 743.7 919.3C745.1 919.3 746.5 926.6 748 933.6C749.4 940.6 750.8 957.1 752.3 973C753.9 990.7 755.5 1015.7 757.1 1041C758.7 1066.3 760.3 1099.6 761.8 1127C763.4 1154.3 765 1188.2 766.6 1205.7C768.2 1223.2 769.8 1236.8 771.4 1245.1C773.3 1255 775.2 1263.1 777.2 1266.6C780.3 1272.3 783.5 1277.3 786.7 1277.3L814.7 1277.3C815.8 1258.6 816.9 1238.6 818 1217.3C819.5 1190 820.9 1157.9 822.3 1129.2C823.8 1100.4 825.2 1067.5 826.6 1044.5C828.4 1016.4 830.2 992.2 831.9 974C833.3 959 834.8 944.2 836.2 936.9C837.3 931.2 838.4 924.6 839.6 924.6C841 924.6 842.4 931.8 843.9 938.7C845.3 945.6 846.7 961.8 848.2 977.5C849.8 994.9 851.4 1019.6 852.9 1044.5C854.5 1069.4 856.1 1102.2 857.7 1129.2C859.3 1156.1 860.9 1189.5 862.5 1206.8C864.1 1224 865.7 1237.4 867.3 1245.6C869.2 1255.4 871.1 1263.3 873 1266.7C876.2 1272.4 879.4 1277.3 882.6 1277.3L909.9 1277.3C911 1258.8 912.1 1239 913.2 1218C914.6 1190.9 916.1 1159.2 917.5 1130.7C918.9 1102.2 920.4 1069.7 921.8 1047C923.6 1019.1 925.3 995.2 927.1 977.2C928.5 962.4 929.9 947.7 931.4 940.5C932.5 934.9 933.6 928.3 934.7 928.3C936.2 928.3 937.6 935.4 939 942.3C940.5 949.1 941.9 965.1 943.3 980.7C944.9 997.9 946.5 1022.3 948.1 1047C949.7 1071.6 951.3 1104 952.9 1130.7C954.5 1157.4 956.1 1190.4 957.7 1207.5C959.3 1224.6 960.9 1237.8 962.5 1245.9C964.4 1255.6 966.3 1263.5 968.2 1266.8C971.4 1272.5 974.6 1277.3 977.8 1277.3L1005.5 1277.3C1006.6 1258.9 1007.7 1239.3 1008.8 1218.4C1010.3 1191.6 1011.7 1160.1 1013.1 1131.8C1014.6 1103.6 1016 1071.3 1017.4 1048.7C1019.2 1021.1 1021 997.3 1022.7 979.4C1024.1 964.8 1025.6 950.2 1027 943.1C1028.1 937.5 1029.2 930.9 1030.4 930.9C1031.8 930.9 1033.2 938 1034.7 944.8C1036.1 951.6 1037.5 967.5 1039 982.9C1040.6 1000 1042.2 1024.2 1043.7 1048.7C1045.3 1073.2 1046.9 1105.3 1048.5 1131.8C1050.1 1158.3 1051.7 1191.1 1053.3 1208C1054.9 1225 1056.5 1238.1 1058.1 1246.1C1060 1255.8 1061.9 1263.6 1063.8 1266.9C1067 1272.5 1070.2 1277.3 1073.4 1277.3L1101.1 1277.3C1102.2 1259 1103.4 1239.4 1104.5 1218.6C1105.9 1191.8 1107.3 1160.5 1108.8 1132.3C1110.2 1104.1 1111.7 1072 1113.1 1049.4C1114.8 1021.9 1116.6 998.3 1118.3 980.4C1119.8 965.8 1121.2 951.3 1122.7 944.1C1123.8 938.6 1124.9 932.1 1126 932.1C1127.4 932.1 1128.9 939.1 1130.3 945.9C1131.7 952.6 1133.2 968.5 1134.6 983.8C1136.2 1000.9 1137.8 1025 1139.4 1049.4C1141 1073.8 1142.6 1105.9 1144.2 1132.3C1145.8 1158.7 1147.4 1191.4 1149 1208.3C1150.5 1225.1 1152.1 1238.2 1153.7 1246.2C1155.6 1255.8 1157.6 1263.6 1159.5 1266.9C1162.7 1272.5 1165.8 1277.3 1169 1277.3L1196.6 1277.3C1197.7 1259 1198.9 1239.5 1200 1218.7C1201.4 1192 1202.8 1160.7 1204.3 1132.6C1205.7 1104.5 1207.1 1072.4 1208.6 1049.9C1210.3 1022.4 1212.1 998.9 1213.8 981C1215.3 966.5 1216.7 952 1218.1 944.9C1219.3 939.3 1220.4 932.8 1221.5 932.8C1222.9 932.8 1224.4 939.8 1225.8 946.6C1227.2 953.3 1228.7 969.2 1230.1 984.5C1231.7 1001.5 1233.3 1025.6 1234.9 1049.9C1236.5 1074.3 1238.1 1106.3 1239.7 1132.6C1241.3 1159 1242.9 1191.6 1244.4 1208.4C1246 1225.2 1247.6 1238.3 1249.2 1246.3C1251.1 1255.9 1253.1 1263.6 1255 1267C1258.2 1272.5 1261.3 1277.3 1264.5 1277.3L1292.4 1277.3C1293.5 1259 1294.6 1239.5 1295.8 1218.7C1297.2 1192 1298.6 1160.7 1300.1 1132.6C1301.5 1104.5 1302.9 1072.4 1304.4 1049.9C1306.1 1022.4 1307.9 998.9 1309.6 981C1311.1 966.5 1312.5 952 1313.9 944.9C1315 939.3 1316.2 932.8 1317.3 932.8C1318.7 932.8 1320.1 939.8 1321.6 946.6C1323 953.3 1324.5 969.2 1325.9 984.5C1327.5 1001.5 1329.1 1025.6 1330.7 1049.9C1332.3 1074.3 1333.9 1106.3 1335.4 1132.6C1337 1159 1338.6 1191.6 1340.2 1208.4C1341.8 1225.2 1343.4 1238.3 1345 1246.3C1346.9 1255.9 1348.8 1263.6 1350.8 1267C1353.9 1272.5 1357.1 1277.3 1360.3 1277.3L1388.1 1277.3C1389.2 1259 1390.3 1239.5 1391.4 1218.7C1392.8 1192 1394.3 1160.7 1395.7 1132.6C1397.1 1104.5 1398.6 1072.4 1400 1049.9C1401 1034.3 1402 1019.9 1403 1007.1" stroke="#EDB120"/>
<path d="M184.9 1277.3C185.4 1193.8 185.9 1117.3 186.3 1052.6C186.9 981.5 187.4 919.2 187.9 865.4C188.8 772.4 189.7 671.4 190.6 625.8C191.6 579.3 192.5 554.3 193.4 528.4C194.7 491.7 196 456 197.3 438.5C198.8 419.6 200.2 398.8 201.6 398.8C202.9 398.8 204.2 428 205.5 453.5C206.3 469.9 207.1 494.6 207.9 528.4C208.5 551.1 209.1 598.3 209.6 627.3C210.9 696 212.3 762.6 213.6 805.5C214.9 846.9 216.1 890.2 217.4 902.8C218.4 913 219.5 922.3 220.5 922.3C221.5 922.3 222.6 896.6 223.6 872.9C224.5 852.8 225.4 793.4 226.3 770.3C228 727.4 229.6 695.7 231.3 678.2C233 660.3 234.7 640.7 236.4 640.7C237.8 640.7 239.2 664.7 240.6 685.7C241.8 703.3 243 733.4 244.2 770.3C244.9 792.4 245.6 833 246.3 860.2C246.8 878.3 247.3 893.6 247.8 910.3C248.4 932.7 249.1 955 249.7 977.7C250.7 1014.7 251.8 1059.6 252.8 1090.1C254.1 1127.5 255.4 1168.6 256.6 1183.7C257.9 1198.8 259.2 1207.5 260.5 1213.6C263.2 1226.7 265.9 1233.1 268.6 1239.9C272.1 1248.6 275.6 1255.3 279.1 1260.8C282.8 1266.6 286.4 1272.7 290.1 1275.1C291.7 1276.1 293.3 1277.3 294.9 1277.3L376.4 1277.3C377.4 1270.6 378.3 1263.5 379.3 1256C380.6 1245.9 381.8 1237.8 383.1 1223.9C384.1 1213.6 385 1197.1 386 1181.3C386.9 1165.4 387.9 1145.1 388.9 1127.9C389.8 1110.7 390.8 1094.2 391.7 1078.1C392.5 1064.7 393.3 1051.2 394.1 1039C394.8 1027.7 395.6 1017.7 396.3 1007.3C397.3 992.8 398.4 975.9 399.4 964.3C400.5 951.5 401.6 937.6 402.7 932.2C403.8 926.9 405 921.6 406.1 921.6C407.3 921.6 408.6 927.9 409.9 934C411 939.4 412.1 952.8 413.2 964.3C414.4 976.6 415.6 989.6 416.8 1007.3C417.7 1020.3 418.6 1039.4 419.5 1056.7C420.3 1072.5 421.1 1089.4 421.8 1106.6C422.8 1127.1 423.8 1150 424.7 1170.6C425.5 1187.7 426.3 1207.8 427.1 1220.4C427.9 1232.9 428.7 1243.2 429.5 1250.6C430.1 1256.5 430.8 1262.7 431.4 1264.8C432.4 1268.1 433.3 1269.4 434.3 1270.9C435.2 1272.4 436.2 1273.6 437.2 1274.5C438.1 1275.3 439.1 1276.3 440 1276.6C441.1 1277 442.3 1277.3 443.4 1277.3L472 1277.3C473 1270 473.9 1262.3 474.9 1254.1C476.2 1243.2 477.4 1234.4 478.7 1219.3C479.7 1208.1 480.6 1190.1 481.6 1173C482.5 1155.8 483.5 1133.7 484.4 1115C485.4 1096.3 486.4 1078.4 487.3 1060.9C488.1 1046.3 488.9 1031.6 489.7 1018.4C490.4 1006.2 491.2 995.3 491.9 984C492.9 968.2 493.9 949.9 495 937.2C496.1 923.4 497.2 908.3 498.3 902.5C499.4 896.7 500.5 890.9 501.7 890.9C502.9 890.9 504.2 897.7 505.5 904.4C506.6 910.3 507.7 924.8 508.8 937.2C510 950.6 511.2 964.8 512.4 984C513.3 998.1 514.2 1018.8 515.1 1037.7C515.9 1054.8 516.7 1073.3 517.5 1091.8C518.4 1114.4 519.4 1138.9 520.4 1161.4C521.2 1179.9 522 1201.8 522.8 1215.5C523.6 1229.1 524.4 1240.3 525.2 1248.3C525.9 1254.8 526.5 1261.4 527.2 1263.8C528.1 1267.3 529.1 1268.6 530.1 1270.3C531.1 1271.8 532 1273.1 533 1274.1C534 1275 534.9 1276.1 535.9 1276.5C537 1276.9 538.1 1277.3 539.2 1277.3L568.1 1277.3C569 1269.6 570 1261.6 571 1253C572.2 1241.6 573.5 1232.4 574.8 1216.6C575.7 1204.8 576.7 1186.1 577.6 1168.1C578.6 1150.1 579.6 1127 580.5 1107.4C581.5 1087.9 582.4 1069.1 583.4 1050.8C584.2 1035.6 585 1020.2 585.8 1006.3C586.5 993.6 587.2 982.2 588 970.4C589 953.8 590 934.7 591 921.4C592.2 906.9 593.3 891.1 594.4 885C595.5 879 596.6 872.9 597.7 872.9C599 872.9 600.3 880 601.6 887C602.7 893.2 603.8 908.4 604.9 921.4C606.1 935.5 607.3 950.3 608.5 970.4C609.4 985.2 610.3 1006.7 611.2 1026.6C612 1044.3 612.8 1064.2 613.6 1083.2C614.6 1107.3 615.6 1132.3 616.6 1156C617.5 1175.3 618.3 1198.3 619.1 1212.6C619.9 1226.9 620.8 1238.6 621.6 1247C622.2 1253.7 622.9 1260.8 623.6 1263.1C624.6 1266.8 625.6 1268.1 626.6 1269.7C627.6 1271.3 628.6 1272.6 629.6 1273.6C630.5 1274.7 631.5 1275.8 632.4 1276.3C633.6 1276.8 634.7 1277.3 635.9 1277.3L663.6 1277.3C664.5 1269.5 665.5 1261.2 666.4 1252.5C667.7 1240.8 669 1231.3 670.3 1215.2C671.2 1203.1 672.2 1183.9 673.1 1165.5C674.1 1147.1 675.1 1123.4 676 1103.4C677 1083.4 677.9 1064.1 678.9 1045.4C679.7 1029.8 680.5 1014 681.3 999.8C682 986.8 682.7 975.1 683.5 963C684.5 946.1 685.5 926.4 686.5 912.9C687.6 898 688.8 881.8 689.9 875.6C691 869.4 692.1 863.2 693.2 863.2C694.5 863.2 695.8 870.5 697.1 877.7C698.2 883.9 699.3 899.6 700.4 912.9C701.6 927.3 702.8 942.5 704 963C704.9 978.2 705.9 1000 706.8 1020.5C707.6 1038.6 708.4 1059.4 709.1 1078.5C710.2 1103.7 711.2 1128.6 712.3 1153.1C713.1 1172.7 714 1196.4 714.8 1211C715.7 1225.6 716.5 1237.7 717.4 1246.2C718 1253.2 718.7 1260.4 719.4 1262.8C720.5 1266.4 721.5 1267.7 722.6 1269.4C723.6 1271 724.6 1272.1 725.6 1273.3C726.5 1274.3 727.5 1275.6 728.4 1276.1C729.6 1276.7 730.8 1277.3 731.9 1277.3L759.2 1277.3C760.2 1269.3 761.1 1260.9 762.1 1252C763.4 1240.1 764.6 1230.5 765.9 1214.1C766.9 1201.7 767.8 1182.2 768.8 1163.5C769.7 1144.7 770.7 1120.6 771.7 1100.2C772.6 1079.9 773.6 1060.3 774.5 1041.2C775.3 1025.3 776.1 1009.3 776.9 994.8C777.6 981.5 778.4 969.7 779.1 957.3C780.1 940.1 781.2 920.1 782.2 906.3C783.3 891.2 784.4 874.6 785.5 868.3C786.6 862 787.8 855.7 788.9 855.7C790.1 855.7 791.4 863.1 792.7 870.4C793.8 876.8 794.9 892.8 796 906.3C797.3 921 798.5 936.5 799.7 957.3C800.6 972.9 801.5 994.9 802.5 1015.9C803.3 1034.2 804 1055.8 804.8 1074.9C805.9 1101 807 1125.8 808.1 1150.8C809 1170.7 809.8 1195 810.7 1209.8C811.6 1224.7 812.4 1237 813.3 1245.7C814 1252.7 814.7 1260.2 815.4 1262.5C816.5 1266.2 817.6 1267.3 818.7 1269C819.7 1270.6 820.7 1271.7 821.7 1272.9C822.7 1274 823.6 1275.4 824.6 1275.9C825.8 1276.6 827 1277.3 828.1 1277.3L854.9 1277.3C855.8 1269.2 856.8 1260.7 857.7 1251.7C859 1239.7 860.3 1230 861.6 1213.4C862.5 1200.9 863.5 1181.2 864.4 1162.2C865.4 1143.3 866.3 1118.9 867.3 1098.3C868.2 1077.8 869.2 1058 870.2 1038.7C871 1022.6 871.8 1006.4 872.6 991.8C873.3 978.4 874 966.4 874.8 953.9C875.8 936.5 876.8 916.3 877.8 902.3C878.9 887 880 870.4 881.2 864C882.3 857.6 883.4 851.2 884.5 851.2C885.8 851.2 887.1 858.7 888.3 866.1C889.4 872.6 890.6 888.7 891.7 902.3C892.9 917.3 894.1 932.9 895.4 953.9C896.3 969.7 897.2 991.8 898.1 1013.1C898.9 1031.5 899.7 1053.8 900.5 1072.8C901.7 1099.6 902.8 1124 903.9 1149.5C904.8 1169.4 905.7 1194.1 906.6 1209.1C907.4 1224.1 908.3 1236.6 909.2 1245.3C909.9 1252.5 910.6 1260.1 911.4 1262.4C912.5 1266 913.6 1267.1 914.7 1268.7C915.8 1270.3 916.8 1271.3 917.9 1272.5C918.8 1273.7 919.8 1275.2 920.7 1275.8C921.9 1276.5 923.1 1277.3 924.3 1277.3L950 1277.3C951 1269.2 951.9 1260.6 952.9 1251.6C954.2 1239.5 955.4 1229.6 956.7 1212.9C957.7 1200.4 958.6 1180.5 959.6 1161.4C960.5 1142.4 961.5 1117.8 962.5 1097.1C963.4 1076.4 964.4 1056.4 965.3 1037C966.1 1020.8 966.9 1004.5 967.7 989.8C968.4 976.3 969.2 964.2 969.9 951.6C970.9 934.1 972 913.7 973 899.7C974.1 884.3 975.2 867.5 976.3 861.1C977.4 854.6 978.6 848.2 979.7 848.2C980.9 848.2 982.2 855.8 983.5 863.2C984.6 869.7 985.7 886 986.8 899.7C988.1 914.8 989.3 930.6 990.6 951.6C991.5 967.6 992.4 989.6 993.4 1011.2C994.2 1029.6 995 1052.5 995.8 1071.3C996.9 1098.8 998.1 1122.8 999.2 1148.6C1000.1 1168.5 1001 1193.5 1001.9 1208.6C1002.8 1223.8 1003.7 1236.3 1004.6 1245.1C1005.4 1252.3 1006.1 1260 1006.9 1262.3C1008 1265.8 1009.2 1266.8 1010.4 1268.5C1011.4 1270 1012.5 1270.9 1013.5 1272.2C1014.5 1273.3 1015.4 1275 1016.4 1275.6C1017.6 1276.4 1018.8 1277.3 1020.1 1277.3L1046.1 1277.3C1047.1 1269.1 1048.1 1260.5 1049 1251.4C1050.3 1239.3 1051.6 1229.4 1052.8 1212.7C1053.8 1200.1 1054.7 1180.1 1055.7 1160.9C1056.7 1141.8 1057.6 1117.1 1058.6 1096.3C1059.5 1075.5 1060.5 1055.4 1061.4 1035.9C1062.2 1019.7 1063 1003.3 1063.8 988.5C1064.6 974.9 1065.3 962.8 1066 950.2C1067.1 932.6 1068.1 912.1 1069.1 898C1070.2 882.6 1071.3 865.7 1072.4 859.2C1073.6 852.8 1074.7 846.3 1075.8 846.3C1077.1 846.3 1078.3 853.9 1079.6 861.4C1080.7 867.9 1081.8 884.4 1083 898C1084.2 913.3 1085.4 929.1 1086.7 950.2C1087.6 966.3 1088.6 988.2 1089.5 1010.1C1090.3 1028.4 1091.1 1051.8 1091.9 1070.4C1093.1 1098.5 1094.3 1121.9 1095.5 1148C1096.5 1168 1097.4 1193.1 1098.3 1208.3C1099.2 1223.5 1100.1 1236.2 1101 1245C1101.8 1252.2 1102.6 1260 1103.3 1262.2C1104.5 1265.7 1105.7 1266.6 1106.9 1268.2C1108 1269.7 1109.1 1270.6 1110.2 1271.9C1111.1 1273 1112.1 1274.8 1113 1275.4C1114.3 1276.3 1115.5 1277.3 1116.7 1277.3L1141.8 1277.3C1142.7 1269.1 1143.7 1260.5 1144.6 1251.4C1145.9 1239.2 1147.2 1229.3 1148.5 1212.5C1149.4 1199.9 1150.4 1179.8 1151.3 1160.6C1152.3 1141.4 1153.3 1116.7 1154.2 1095.8C1155.2 1075 1156.1 1054.9 1157.1 1035.3C1157.9 1019 1158.7 1002.6 1159.5 987.8C1160.2 974.2 1160.9 962 1161.7 949.3C1162.7 931.7 1163.7 911.2 1164.7 897C1165.8 881.6 1167 864.6 1168.1 858.1C1169.2 851.7 1170.3 845.2 1171.4 845.2C1172.7 845.2 1174 852.8 1175.3 860.3C1176.4 866.9 1177.5 883.4 1178.6 897C1179.9 912.4 1181.1 928.2 1182.4 949.3C1183.3 965.5 1184.3 987.4 1185.2 1009.4C1186 1027.7 1186.8 1051.5 1187.6 1069.9C1188.9 1098.4 1190.1 1121.4 1191.3 1147.7C1192.3 1167.6 1193.2 1192.9 1194.2 1208.2C1195.1 1223.4 1196 1236.1 1197 1244.9C1197.7 1252.2 1198.5 1260.1 1199.3 1262.2C1200.5 1265.5 1201.8 1266.4 1203 1268C1204.1 1269.4 1205.2 1270.3 1206.3 1271.6C1207.3 1272.7 1208.2 1274.6 1209.2 1275.3C1210.4 1276.3 1211.7 1277.3 1212.9 1277.3L1237.4 1277.3C1238.4 1269.1 1239.3 1260.5 1240.3 1251.3C1241.6 1239.1 1242.8 1229.2 1244.1 1212.4C1245.1 1199.7 1246 1179.7 1247 1160.4C1247.9 1141.2 1248.9 1116.4 1249.9 1095.5C1250.8 1074.6 1251.8 1054.5 1252.7 1034.9C1253.5 1018.6 1254.3 1002.1 1255.1 987.3C1255.8 973.6 1256.6 961.5 1257.3 948.8C1258.3 931.1 1259.4 910.6 1260.4 896.4C1261.5 880.9 1262.6 863.9 1263.7 857.4C1264.8 850.9 1266 844.4 1267.1 844.4C1268.3 844.4 1269.6 852.1 1270.9 859.6C1272 866.2 1273.1 882.7 1274.2 896.4C1275.5 911.8 1276.8 927.7 1278 948.8C1279 965 1280 986.7 1280.9 1008.9C1281.7 1027.1 1282.5 1051.4 1283.3 1069.5C1284.6 1098.6 1285.9 1121 1287.2 1147.4C1288.1 1167.3 1289.1 1192.8 1290 1208C1291 1223.3 1291.9 1236.1 1292.9 1244.8C1293.7 1252.2 1294.5 1260.1 1295.3 1262.1C1296.6 1265.4 1297.8 1266.2 1299.1 1267.8C1300.2 1269.1 1301.3 1269.9 1302.5 1271.2C1303.4 1272.4 1304.4 1274.4 1305.3 1275.1C1306.6 1276.2 1307.9 1277.3 1309.1 1277.3L1333.5 1277.3C1334.5 1269.1 1335.4 1260.4 1336.4 1251.3C1337.7 1239.1 1339 1229.1 1340.2 1212.3C1341.2 1199.6 1342.1 1179.5 1343.1 1160.2C1344.1 1141 1345 1116.1 1346 1095.2C1346.9 1074.2 1347.9 1054.1 1348.8 1034.5C1349.6 1018.1 1350.4 1001.6 1351.2 986.8C1352 973.1 1352.7 960.9 1353.4 948.2C1354.4 930.5 1355.5 909.9 1356.5 895.7C1357.6 880.2 1358.7 863.2 1359.8 856.7C1361 850.2 1362.1 843.7 1363.2 843.7C1364.5 843.7 1365.7 851.3 1367 858.9C1368.1 865.4 1369.2 882 1370.4 895.7C1371.6 911.2 1372.9 927.1 1374.1 948.2C1375.1 964.5 1376.1 986.2 1377.1 1008.5C1377.8 1026.7 1378.6 1051 1379.4 1069.2C1380.7 1098.3 1382 1120.7 1383.3 1147.2C1384.2 1167.1 1385.2 1192.6 1386.1 1207.9C1387.1 1223.2 1388.1 1236 1389 1244.8C1389.8 1252.1 1390.6 1260.1 1391.4 1262.1C1392.7 1265.4 1393.9 1266.2 1395.2 1267.8C1396.3 1269.1 1397.5 1269.9 1398.6 1271.2C1399.5 1272.4 1400.5 1274.4 1401.4 1275.1C1402 1275.6 1402.5 1276 1403 1276.3" stroke="#7E2F8E"/>
<path d="M184.9 1277.3L205.5 1277.3C206.3 1248.5 207.1 1218.5 207.9 1187.4C208.7 1153.8 209.6 1120.6 210.4 1082.6C211.3 1045.2 212.1 991.3 213 959.8C214.1 918.2 215.2 890 216.3 860.2C217.2 837.5 218 811.1 218.9 798C219.7 785.4 220.5 770.3 221.3 770.3C222.2 770.3 223.2 784.3 224.1 798C224.9 809.6 225.7 842.7 226.5 861.7C227.6 888.2 228.7 906.8 229.9 932.8C230.6 951 231.4 973.7 232.2 992.7C233.2 1016.4 234.1 1037.4 235.1 1060.1C235.8 1076.2 236.5 1097.7 237.2 1108.8C238.8 1136 240.5 1156 242.2 1166.5C244.9 1183.7 247.7 1186.1 250.4 1200.2C252.1 1208.9 253.8 1223.7 255.5 1233.4C257.8 1246.1 260 1262.5 262.2 1266.8C263.4 1269.1 264.6 1271.3 265.7 1271.3C267.3 1271.3 268.9 1243.3 270.5 1233.4C272.7 1219.6 275 1206 277.2 1200.2C279.3 1194.7 281.3 1190.6 283.4 1188.9C285.3 1187.4 287.1 1185.9 289 1185.9C290.9 1185.9 292.9 1191.7 294.9 1194.9C297.3 1198.8 299.7 1207.2 302.1 1207.7C304.4 1208.1 306.7 1208.4 309 1208.4C312.3 1208.4 315.5 1201 318.8 1194.9C321.1 1190.6 323.4 1187.5 325.7 1176.2C326.6 1171.8 327.5 1161.9 328.4 1142.5C329 1128.6 329.6 1049.3 330.3 1022.7C330.9 996 331.5 962.8 332.2 962.8C332.8 962.8 333.5 989.7 334.1 1007.7C335.1 1034.7 336 1081.5 337 1112.5C338.1 1148.8 339.2 1191 340.3 1209.9C341.6 1231.4 342.9 1252.3 344.1 1254.8C345.3 1257.1 346.4 1258.6 347.5 1258.6C348.6 1258.6 349.7 1254.2 350.7 1250.3C353 1242.4 355.2 1211.9 357.4 1200.2C359.2 1190.6 361 1180.8 362.8 1177.7C364.6 1174.5 366.5 1171.7 368.3 1171.7C370.1 1171.7 372 1176.9 373.8 1181.4C375 1184.5 376.2 1192 377.5 1195.7C379 1200 380.4 1206.2 381.9 1206.2C382.7 1206.2 383.5 1202.4 384.3 1202.4C384.4 1202.4 384.5 1221.2 384.5 1221.2C385.5 1221.2 386.5 1204.3 387.4 1193.7C388.4 1183.1 389.3 1171 390.3 1156C391.2 1142.2 392 1118.9 392.9 1104.8C394.1 1085.5 395.3 1068.2 396.5 1056.2C397.9 1041.9 399.4 1028.4 400.8 1022.5C402.6 1015 404.5 1007.7 406.3 1007.7C407.8 1007.7 409.3 1013.4 410.8 1018.5C412.3 1023.3 413.7 1032.1 415.2 1042.7C415.8 1047.5 416.4 1053.7 417.1 1061.6C417.7 1069.6 418.3 1081.5 419 1094C419.9 1111.1 420.7 1137.8 421.6 1156C422.5 1174.1 423.4 1192.2 424.2 1204.5C425.2 1217.9 426.2 1228.5 427.1 1236.9C428.4 1248 429.7 1260.2 430.9 1263.8C432.2 1267.4 433.5 1270.6 434.8 1270.6C435.2 1270.6 435.7 1267.3 436.2 1266C437.3 1263 438.4 1261.2 439.5 1258.4C440.8 1255.2 442.1 1251.2 443.4 1247.6C444.8 1243.5 446.2 1239.8 447.7 1235.2C449.1 1230.7 450.5 1224.8 452 1220C453.6 1214.7 455.2 1209.5 456.8 1205.1C458.5 1200.2 460.3 1194 462 1191.8C464.1 1189.3 466.2 1186.8 468.2 1186.8C469.8 1186.8 471.4 1188.5 473 1190.2C474.2 1191.5 475.4 1196.3 476.6 1198C477.6 1199.4 478.5 1198.7 479.5 1201.2C479.7 1201.8 479.9 1219.2 480.1 1219.2C481.1 1219.2 482.1 1201.7 483 1190.7C484 1179.7 484.9 1167.2 485.9 1151.6C486.8 1137.3 487.6 1113.2 488.5 1098.5C489.7 1078.6 490.9 1060.6 492.1 1048.2C493.5 1033.4 495 1019.4 496.4 1013.3C498.2 1005.6 500.1 998 501.9 998C503.4 998 504.9 1003.9 506.4 1009.1C507.9 1014.1 509.3 1023.2 510.7 1034.3C511.4 1039.2 512 1045.6 512.7 1053.8C513.3 1062.1 513.9 1074.4 514.6 1087.3C515.4 1105.1 516.3 1132.8 517.2 1151.6C518.1 1170.4 519 1189.1 519.8 1201.9C520.8 1215.8 521.7 1226.7 522.7 1235.4C524 1247 525.3 1259.6 526.5 1263.3C527.8 1267.1 529.1 1270.3 530.4 1270.3C530.7 1270.3 531.1 1268.3 531.5 1267.4C532.6 1265 533.7 1263.6 534.8 1261.3C536.1 1258.6 537.4 1255.5 538.7 1252.3C540.1 1248.7 541.5 1244.9 543 1240.5C544.4 1236.2 545.8 1230.6 547.3 1226.1C548.9 1221.1 550.5 1216 552.1 1212C553.8 1207.5 555.6 1202.1 557.3 1200.2C559.4 1198 561.5 1195.8 563.5 1195.8C565.1 1195.8 566.7 1197.4 568.3 1199C569.5 1200.3 570.7 1204.9 571.9 1206.6C572.9 1207.9 573.8 1207.8 574.8 1209.6C575.3 1210.5 575.7 1216.1 576.2 1216.1C577.2 1216.1 578.1 1197.6 579.1 1186.1C580 1174.5 581 1161.3 581.9 1144.9C582.8 1129.8 583.7 1104.4 584.6 1088.9C585.8 1067.9 587 1049 588.2 1036C589.6 1020.3 591 1005.6 592.5 999.2C594.3 991 596.1 983 598 983C599.5 983 601 989.2 602.5 994.8C603.9 1000 605.4 1009.6 606.8 1021.2C607.5 1026.4 608.1 1033.2 608.7 1041.8C609.4 1050.5 610 1063.6 610.6 1077.2C611.5 1095.9 612.4 1125 613.3 1144.9C614.1 1164.7 615 1184.4 615.9 1197.8C616.9 1212.5 617.8 1224 618.8 1233.2C620 1245.4 621.3 1258.7 622.6 1262.6C623.9 1266.5 625.1 1269.9 626.4 1269.9C626.7 1269.9 627 1269 627.3 1268.5C628.4 1266.8 629.6 1265.4 630.7 1263.5C632 1261.4 633.2 1258.9 634.5 1256C635.9 1252.8 637.4 1248.8 638.8 1244.6C640.2 1240.4 641.7 1235 643.1 1230.7C644.7 1225.9 646.3 1220.9 647.9 1217.1C649.6 1213 651.4 1208.3 653.2 1206.5C655.2 1204.5 657.3 1202.6 659.4 1202.6C661 1202.6 662.6 1204.1 664.2 1205.7C665.3 1206.9 666.5 1211.5 667.7 1213.1C668.7 1214.4 669.7 1216 670.6 1216C671 1216 671.4 1215.5 671.8 1215C672.8 1213.7 673.8 1195.6 674.7 1183.6C675.7 1171.6 676.6 1157.9 677.6 1141.2C678.5 1125.9 679.3 1100.5 680.2 1085.2C681.4 1064.2 682.6 1045.8 683.8 1032.5C685.2 1016.8 686.6 1001.6 688 994.9C689.8 986.3 691.6 977.7 693.4 977.7C694.9 977.7 696.4 985 697.9 991.1C699.3 997 700.8 1006.7 702.2 1018.8C702.8 1024.1 703.4 1031.2 704.1 1039.8C704.7 1049.3 705.4 1062.7 706.1 1077C707 1095.8 708 1124.9 708.9 1144.6C709.8 1164.4 710.7 1183.6 711.6 1197.3C712.6 1211.6 713.5 1223.3 714.5 1232.4C715.8 1244.9 717.1 1258.5 718.4 1262.5C719.8 1266.5 721.1 1270 722.4 1270C722.6 1270 722.9 1269.5 723.1 1269.3C724.2 1268.1 725.3 1266.8 726.5 1265.2C727.7 1263.4 729 1261.4 730.3 1258.8C731.7 1255.9 733.2 1251.7 734.6 1247.6C736 1243.5 737.5 1238.1 738.9 1233.8C740.5 1229.1 742.1 1224.1 743.7 1220.5C745.4 1216.6 747.2 1212.3 748.9 1210.7C751 1208.8 753.1 1207.1 755.2 1207.1C756.7 1207.1 758.3 1208.5 759.9 1210.2C761.1 1211.4 762.3 1216 763.5 1217.6C764.5 1218.8 765.4 1220.4 766.4 1220.4C766.8 1220.4 767.2 1217.2 767.6 1214.7C768.6 1208.7 769.5 1194.6 770.5 1182.3C771.4 1169.9 772.4 1156 773.4 1139.2C774.2 1123.8 775.1 1098.9 776 1083.8C777.2 1063.1 778.4 1045.6 779.6 1032.2C781 1016.5 782.4 1001.1 783.7 994.1C785.5 985.2 787.3 976.2 789 976.2C790.5 976.2 792 984.5 793.4 991.1C794.8 997.5 796.3 1007.3 797.7 1019.7C798.3 1025.1 798.9 1032.4 799.5 1040.8C800.3 1051 801 1064.6 801.8 1079.5C802.7 1098.1 803.7 1126.7 804.6 1146.1C805.6 1165.5 806.5 1184.1 807.4 1197.7C808.4 1211.6 809.4 1223.2 810.3 1232.1C811.7 1244.9 813 1258.5 814.4 1262.6C815.8 1266.7 817.1 1270.2 818.5 1270.2C818.7 1270.2 818.8 1270 819 1269.9C820.1 1269 821.2 1267.9 822.3 1266.6C823.6 1265.1 824.9 1263.4 826.2 1261.1C827.6 1258.4 829 1253.9 830.5 1249.8C831.9 1245.7 833.3 1240.3 834.8 1236C836.4 1231.2 838 1226.2 839.6 1222.7C841.3 1219 843.1 1215 844.8 1213.5C846.9 1211.7 849 1210.1 851 1210.1C852.6 1210.1 854.2 1211.6 855.8 1213.2C857 1214.4 858.2 1219.1 859.4 1220.7C860.4 1222 861.3 1223.5 862.3 1223.5C862.6 1223.5 863 1217.7 863.4 1214.1C864.4 1204.9 865.3 1193.1 866.3 1180.4C867.2 1167.7 868.2 1153.5 869.1 1136.6C870 1121 870.9 1096.4 871.8 1081.4C873 1061 874.2 1044.2 875.4 1030.6C876.7 1015 878.1 999.2 879.5 991.9C881.2 982.7 882.9 973.2 884.6 973.2C886.1 973.2 887.5 982.6 889 989.7C890.4 996.7 891.8 1006.5 893.2 1019.3C893.8 1024.8 894.4 1032.3 895 1040.6C895.8 1051.6 896.6 1065.6 897.4 1081C898.4 1099.6 899.4 1127.8 900.4 1147C901.3 1166.1 902.3 1184.1 903.3 1197.8C904.2 1211.2 905.2 1222.9 906.2 1231.7C907.6 1244.6 909 1258.5 910.4 1262.6C911.8 1266.7 913.2 1270.4 914.6 1270.4C915.6 1270.4 916.5 1268.6 917.5 1267.6C918.8 1266.2 920.1 1265 921.3 1262.8C922.8 1260.4 924.2 1255.5 925.6 1251.3C927.1 1247.1 928.5 1241.6 929.9 1237.2C931.5 1232.4 933.1 1227.1 934.7 1223.7C936.5 1220 938.2 1216.3 940 1214.9C942 1213.2 944.1 1211.6 946.2 1211.6C947.8 1211.6 949.4 1213.1 951 1214.8C952.2 1216 953.4 1220.9 954.6 1222.5C955.5 1223.8 956.5 1225.4 957.4 1225.4C957.9 1225.4 958.3 1218.2 958.7 1213.9C959.7 1204.1 960.6 1192.3 961.6 1179.3C962.5 1166.4 963.5 1151.9 964.4 1134.9C965.3 1119.4 966.2 1095.2 967.1 1080.5C968.3 1060.5 969.5 1044.5 970.7 1030.8C972 1015.5 973.3 999.3 974.7 991.9C976.4 982.4 978.1 972.5 979.8 972.5C981.2 972.5 982.6 982.9 984 990.4C985.4 997.9 986.8 1007.8 988.2 1020.8C988.8 1026.4 989.4 1034.1 990 1042.2C990.8 1054 991.7 1068.1 992.6 1084C993.6 1102.5 994.6 1130.1 995.6 1148.8C996.6 1167.6 997.6 1184.8 998.7 1198.5C999.6 1211.4 1000.6 1223 1001.5 1231.6C1003 1244.6 1004.4 1258.6 1005.9 1262.8C1007.4 1266.9 1008.8 1270.6 1010.3 1270.6C1011.2 1270.6 1012.2 1269.4 1013.1 1268.6C1014.4 1267.6 1015.7 1266.5 1017 1264.6C1018.4 1262.4 1019.8 1257.1 1021.3 1252.8C1022.7 1248.5 1024.1 1242.9 1025.6 1238.5C1027.2 1233.5 1028.8 1228.1 1030.4 1224.8C1032.1 1221.1 1033.9 1217.6 1035.6 1216.3C1037.7 1214.6 1039.8 1213.1 1041.8 1213.1C1043.4 1213.1 1045 1214.6 1046.6 1216.4C1047.8 1217.6 1049 1222.7 1050.2 1224.4C1051.2 1225.7 1052.1 1227.3 1053.1 1227.3C1053.7 1227.3 1054.3 1219.3 1055 1213.7C1055.9 1205.2 1056.9 1191.4 1057.8 1178.2C1058.8 1165 1059.7 1150.2 1060.7 1133.3C1061.6 1117.7 1062.4 1094 1063.3 1079.6C1064.5 1059.9 1065.7 1044.8 1066.9 1031.1C1068.2 1016 1069.5 999.5 1070.9 991.8C1072.5 982.2 1074.2 971.7 1075.9 971.7C1077.2 971.7 1078.6 983.2 1080 991.2C1081.4 999.2 1082.8 1009 1084.2 1022.4C1084.8 1028 1085.4 1035.9 1085.9 1043.8C1086.9 1056.3 1087.8 1070.8 1088.7 1087C1089.7 1105.4 1090.8 1132.4 1091.8 1150.7C1092.9 1169.1 1093.9 1185.6 1095 1199.2C1095.9 1211.6 1096.9 1223.1 1097.9 1231.5C1099.4 1244.6 1100.9 1258.7 1102.4 1262.9C1103.9 1267.1 1105.4 1270.8 1106.9 1270.8C1107.5 1270.8 1108.1 1270 1108.8 1269.5C1110.1 1268.6 1111.3 1267.8 1112.6 1266.1C1114 1264.2 1115.5 1258.4 1116.9 1254C1118.3 1249.6 1119.8 1243.8 1121.2 1239.2C1122.8 1234.2 1124.4 1228.4 1126 1225.2C1127.8 1221.6 1129.5 1218.3 1131.3 1216.9C1133.3 1215.3 1135.4 1213.8 1137.5 1213.8C1139.1 1213.8 1140.7 1215.5 1142.3 1217.2C1143.5 1218.6 1144.6 1223.8 1145.8 1225.5C1146.8 1226.9 1147.8 1228.5 1148.7 1228.5C1149.4 1228.5 1150.1 1219.8 1150.7 1213.6C1151.7 1204.8 1152.6 1190.6 1153.6 1177.1C1154.6 1163.6 1155.5 1148.6 1156.5 1131.6C1157.3 1116 1158.2 1092.8 1159.1 1078.6C1160.3 1059.4 1161.5 1045.1 1162.7 1031.4C1164 1016.5 1165.3 999.7 1166.6 991.8C1168.2 981.9 1169.8 971 1171.5 971C1172.8 971 1174.2 983.5 1175.6 991.9C1176.9 1000.4 1178.3 1010.3 1179.7 1023.9C1180.3 1029.6 1180.8 1037.6 1181.4 1045.4C1182.4 1058.7 1183.4 1073.4 1184.3 1090C1185.4 1108.4 1186.5 1134.6 1187.6 1152.6C1188.7 1170.5 1189.7 1186.3 1190.8 1199.8C1191.8 1211.8 1192.7 1223.2 1193.7 1231.4C1195.2 1244.6 1196.8 1258.8 1198.3 1263C1199.9 1267.3 1201.4 1271 1203 1271C1203.4 1271 1203.8 1270.6 1204.3 1270.4C1205.6 1269.7 1206.8 1269.1 1208.1 1267.6C1209.5 1265.9 1211 1259.7 1212.4 1255.2C1213.8 1250.6 1215.3 1244.6 1216.7 1240C1218.3 1234.8 1219.9 1228.8 1221.5 1225.6C1223.2 1222 1225 1218.9 1226.8 1217.6C1228.8 1216 1230.9 1214.6 1233 1214.6C1234.6 1214.6 1236.2 1216.3 1237.8 1218.1C1238.9 1219.5 1240.1 1224.9 1241.3 1226.7C1242.3 1228.1 1243.3 1229.8 1244.2 1229.8C1245 1229.8 1245.7 1220.5 1246.5 1213.6C1247.5 1204.9 1248.4 1190 1249.4 1176.2C1250.3 1162.5 1251.3 1147.2 1252.2 1130.3C1253.1 1114.7 1254 1092 1254.9 1078.2C1256.1 1059.4 1257.3 1046 1258.5 1032.3C1259.7 1017.6 1261 1000.6 1262.3 992.4C1263.9 982.3 1265.5 971 1267.1 971C1268.4 971 1269.7 984.6 1271.1 993.4C1272.5 1002.3 1273.8 1012.2 1275.2 1026.1C1275.8 1031.8 1276.3 1040 1276.9 1047.6C1277.9 1061.7 1278.9 1076.6 1280 1093.5C1281.1 1111.7 1282.2 1137.3 1283.3 1154.8C1284.4 1172.3 1285.6 1187.4 1286.7 1200.7C1287.6 1212.2 1288.6 1223.4 1289.5 1231.4C1291.1 1244.7 1292.7 1259 1294.3 1263.2C1295.9 1267.5 1297.5 1271.2 1299.1 1271.2C1299.4 1271.2 1299.7 1270.9 1300.1 1270.8C1301.3 1270.2 1302.6 1269.6 1303.9 1268.3C1305.3 1266.7 1306.8 1260.2 1308.2 1255.6C1309.6 1250.9 1311.1 1244.9 1312.5 1240.1C1314.1 1234.8 1315.7 1228.7 1317.3 1225.5C1319 1221.9 1320.8 1218.8 1322.5 1217.6C1324.6 1216 1326.7 1214.6 1328.8 1214.6C1330.3 1214.6 1331.9 1216.3 1333.5 1218.2C1334.7 1219.6 1335.9 1225.2 1337.1 1227C1338.1 1228.4 1339 1230.1 1340 1230.1C1340.9 1230.1 1341.7 1221 1342.6 1213.6C1343.6 1205.5 1344.5 1190 1345.5 1176.2C1346.4 1162.5 1347.4 1147.2 1348.4 1130.3C1349.2 1114.7 1350.1 1092 1351 1078.2C1352.2 1059.4 1353.4 1046 1354.6 1032.3C1355.9 1017.6 1357.1 1000.6 1358.4 992.4C1360 982.3 1361.6 971 1363.2 971C1364.5 971 1365.9 984.6 1367.2 993.4C1368.6 1002.3 1369.9 1012.2 1371.3 1026.1C1371.9 1031.8 1372.4 1040 1373 1047.6C1374 1061.7 1375.1 1076.6 1376.1 1093.5C1377.2 1111.7 1378.3 1137.3 1379.4 1154.8C1380.6 1172.3 1381.7 1187.4 1382.8 1200.7C1383.7 1212.2 1384.7 1223.4 1385.7 1231.4C1387.3 1244.7 1388.8 1259 1390.4 1263.2C1392 1267.5 1393.6 1271.2 1395.2 1271.2C1395.4 1271.2 1395.5 1270.9 1395.7 1270.8C1397 1269.8 1398.3 1269.6 1399.5 1268.3C1400.7 1267 1401.8 1262.6 1403 1258.4" stroke="#77AC30"/>
<path d="M184.9 1277.3L189.7 1277.3C190.6 1266.1 191.6 1250.3 192.6 1232.4C193.5 1214.4 194.5 1185.1 195.4 1165C196.5 1141.4 197.7 1118 198.8 1101.3C199.9 1084.6 201 1069.3 202.1 1060.1C203.5 1048.3 205 1037.9 206.4 1033.9C207.8 1030.1 209.1 1026.4 210.5 1026.4C212.3 1026.4 214.1 1030.9 216 1030.9C218.4 1030.9 220.8 1021.8 223.2 1015.2C225.1 1009.9 227 998.6 228.9 994.2C230.5 990.5 232.2 986 233.8 986C235.4 986 236.9 993.4 238.5 1000.2C239.7 1005.6 240.9 1015.4 242.2 1027.2C243.8 1042.6 245.4 1077.3 247.1 1097.6C248.7 1117.4 250.3 1137.3 251.8 1150C253.4 1162.7 255 1172.9 256.6 1179.9C258.2 1187 259.8 1196.4 261.4 1196.4C262.4 1196.4 263.3 1191.8 264.3 1187.4C265.6 1181.7 266.8 1161.3 268.1 1153.7C270 1142.4 271.9 1131.6 273.8 1129C276.1 1126 278.3 1123.8 280.5 1123.8C282.1 1123.8 283.7 1127.3 285.3 1131.3C286.5 1134.2 287.7 1142.6 289 1150C291.7 1166.9 294.5 1197.2 297.3 1216.6C299.5 1232.3 301.7 1250 304 1258.6C305.7 1265.3 307.5 1271.4 309.2 1273.6C310.8 1275.5 312.4 1277.3 314 1277.3L337 1277.3C338.2 1277.3 339.5 1270.2 340.8 1262.3C342.4 1252.5 344 1212 345.6 1183.3C347.8 1143.2 350 1073.4 352.3 1049.6C353.9 1032.7 355.5 1019.3 357.1 1013.7C358.6 1008.4 360.1 1003.2 361.6 1003.2C363.1 1003.2 364.6 1009.3 366.1 1015.2C367.7 1021.2 369.2 1034.6 370.8 1049.6C373 1071.4 375.2 1127.8 377.5 1150C379.1 1166.3 380.8 1178.4 382.4 1187.4C383.8 1195.3 385.3 1203.9 386.7 1206.2C388 1208.2 389.3 1209.9 390.5 1209.9C391.7 1209.9 392.9 1202.2 394.2 1194.9C395.8 1184.9 397.5 1142.4 399.1 1133.5C400.2 1127.5 401.4 1123.5 402.5 1121.5C403.3 1120.1 404.1 1118.5 404.9 1118.5C406.1 1118.5 407.4 1121.1 408.7 1123.8C410.5 1127.6 412.4 1137.8 414.2 1150C416.2 1163.2 418.2 1197.2 420.2 1216.6C421.9 1233.7 423.7 1252.2 425.4 1262.3C426.6 1268.8 427.7 1277.3 428.8 1277.3C429.3 1277.3 429.9 1262.4 430.5 1256.8C431.2 1249.6 431.9 1246.2 432.6 1238.9C433.3 1231.6 434 1220.1 434.8 1210.7C435.5 1201.3 436.2 1190.6 436.9 1182.5C437.8 1172.7 438.7 1166.4 439.5 1156.9C440.7 1144.9 441.8 1127.1 442.9 1115.9C444.2 1103.2 445.4 1095.2 446.7 1083.9C448.3 1069.9 449.9 1047.5 451.5 1039.1C453.1 1030.5 454.7 1021.2 456.4 1021.2C457.9 1021.2 459.5 1029.4 461.1 1036.5C462.7 1043.8 464.2 1058.6 465.8 1072.4C467.3 1084.8 468.7 1101 470.1 1115.9C471.4 1129.2 472.7 1143.3 474 1156.9C475.1 1168.9 476.2 1181.7 477.3 1192.8C478 1199.1 478.6 1204.3 479.2 1210.7C479.7 1215.5 480.2 1226.1 480.7 1226.1C481.3 1226.1 481.9 1220.1 482.5 1214.4C483.2 1208.6 483.8 1189.2 484.4 1182C485.7 1167.6 487 1159.4 488.3 1151.5C490 1140.6 491.8 1134.5 493.5 1125.4C494.8 1118.8 496.1 1109.4 497.4 1104.8C498.2 1101.7 499 1097.6 499.9 1097.6C501.1 1097.6 502.3 1101.3 503.6 1104.8C504.9 1108.5 506.3 1117.3 507.6 1125.4C509 1133.5 510.3 1143.8 511.7 1155.1C512.6 1162.9 513.6 1171.6 514.5 1182C515.6 1194 516.7 1210.3 517.8 1225.2C518.6 1236.8 519.5 1254.2 520.3 1261.1C521.3 1268.9 522.2 1277.3 523.2 1277.3C524.1 1277.3 525 1264.6 525.9 1257.6C526.6 1252.3 527.3 1247.4 528 1240.5C528.8 1233.4 529.5 1222.4 530.2 1213.4C530.9 1204.4 531.6 1194.1 532.3 1186.4C533.2 1177 534.1 1170.9 534.9 1161.8C536.1 1150.2 537.2 1133.3 538.3 1122.5C539.6 1110.4 540.8 1102.6 542.1 1091.8C543.7 1078.3 545.3 1056.9 546.9 1048.9C548.5 1040.6 550.2 1031.7 551.8 1031.7C553.4 1031.7 554.9 1039.6 556.5 1046.4C558.1 1053.4 559.7 1067.5 561.3 1080.8C562.7 1092.6 564.1 1108.3 565.5 1122.5C566.8 1135.3 568 1148.7 569.3 1161.8C570.4 1173.3 571.5 1185.7 572.6 1196.2C573.3 1202.3 573.9 1207.3 574.5 1213.4C575 1218 575.5 1217.3 576 1228.2C576.1 1230 576.1 1249.1 576.2 1249.1C577 1249.1 577.8 1224.8 578.6 1211.5C579.2 1200.9 579.9 1185.2 580.5 1177.7C581.8 1162.6 583.1 1154 584.3 1145.7C586.1 1134.4 587.8 1128 589.6 1118.5C590.9 1111.6 592.2 1101.7 593.4 1096.8C594.3 1093.6 595.1 1089.3 596 1089.3C597.2 1089.3 598.4 1093.2 599.6 1096.8C601 1100.8 602.4 1110 603.7 1118.5C605.1 1127 606.4 1137.7 607.8 1149.5C608.7 1157.7 609.7 1166.8 610.6 1177.7C611.7 1190.2 612.8 1207.2 613.8 1222.8C614.7 1234.9 615.5 1253.2 616.4 1260.4C617.3 1268.5 618.3 1277.3 619.2 1277.3C620.1 1277.3 621 1264.9 621.9 1258.1C622.6 1252.8 623.3 1248.1 624 1241.4C624.7 1234.5 625.4 1223.8 626.1 1215C626.8 1206.2 627.6 1196.2 628.3 1188.6C629.1 1179.5 630 1173.4 630.8 1164.7C632 1153.2 633.1 1136.9 634.3 1126.3C635.5 1114.6 636.8 1106.8 638 1096.4C639.6 1083.1 641.2 1062.2 642.8 1054.4C644.5 1046.3 646.1 1037.7 647.8 1037.7C649.3 1037.7 650.9 1045.4 652.4 1052C654 1058.9 655.6 1072.5 657.2 1085.6C658.6 1097 660 1112.4 661.4 1126.3C662.7 1138.8 663.9 1151.9 665.2 1164.7C666.3 1175.8 667.4 1187.9 668.5 1198.2C669.1 1204.2 669.7 1209 670.4 1215C670.8 1219.5 671.3 1229.4 671.8 1229.4C672.6 1229.4 673.3 1218.7 674.1 1209.7C674.7 1202.2 675.4 1182.6 676 1174.9C677.3 1159.4 678.6 1150.5 679.8 1142C681.6 1130.4 683.3 1123.8 685.1 1114C686.4 1106.9 687.6 1096.8 688.9 1091.8C689.8 1088.5 690.6 1084.1 691.5 1084.1C692.7 1084.1 693.9 1088.1 695.1 1091.8C696.5 1095.9 697.8 1105.3 699.2 1114C700.6 1122.8 701.9 1133.8 703.3 1145.9C704.2 1154.3 705.1 1163.7 706.1 1174.9C707.2 1187.8 708.3 1205.3 709.3 1221.3C710.2 1233.7 711 1252.5 711.9 1259.9C712.8 1268.3 713.8 1277.3 714.7 1277.3C715.8 1277.3 716.8 1265.7 717.8 1258.6C718.5 1253.8 719.2 1248.8 719.9 1242.2C720.6 1235.4 721.3 1225 722 1216.4C722.7 1207.8 723.4 1198.1 724.2 1190.7C725 1181.7 725.9 1175.7 726.7 1167.3C727.9 1155.9 729 1140.3 730.1 1129.8C731.4 1118.4 732.6 1110.7 733.9 1100.5C735.5 1087.5 737.1 1067.2 738.7 1059.6C740.3 1051.6 742 1043.2 743.7 1043.2C745.2 1043.2 746.8 1050.8 748.3 1057.2C749.9 1063.9 751.5 1077.2 753.1 1090C754.5 1101.1 755.9 1116.3 757.2 1129.8C758.5 1142.1 759.7 1154.8 761 1167.3C762.1 1178.2 763.2 1190.1 764.2 1200C764.9 1205.9 765.5 1210.6 766.2 1216.4C766.6 1220.8 767.1 1230.5 767.6 1230.5C768.3 1230.5 769 1218.1 769.7 1208.6C770.4 1200.2 771 1181.2 771.7 1173.3C772.9 1157.6 774.2 1148.6 775.5 1140C777.2 1128.1 779 1121.4 780.7 1111.5C782 1104.3 783.3 1094 784.6 1088.9C785.4 1085.6 786.3 1081.1 787.1 1081.1C788.3 1081.1 789.6 1085.2 790.8 1088.9C792.1 1093.1 793.5 1102.6 794.8 1111.5C796.2 1120.4 797.6 1131.5 798.9 1143.9C799.8 1152.4 800.8 1161.9 801.7 1173.3C802.8 1186.4 803.9 1204.2 805 1220.4C805.8 1233.1 806.7 1252.1 807.5 1259.6C808.5 1268.1 809.4 1277.3 810.4 1277.3C811.6 1277.3 812.7 1266.3 813.9 1258.8C814.6 1254.4 815.2 1249.1 815.9 1242.6C816.6 1235.9 817.3 1225.6 818 1217.1C818.7 1208.6 819.4 1199 820.1 1191.7C821 1182.8 821.8 1176.8 822.7 1168.5C823.8 1157.2 825 1141.9 826.1 1131.5C827.4 1120.3 828.6 1112.6 829.9 1102.6C831.4 1089.7 833 1069.5 834.6 1062.1C836.3 1054.2 838 1045.9 839.7 1045.9C841.2 1045.9 842.8 1053.4 844.3 1059.8C845.9 1066.4 847.5 1079.4 849.1 1092.2C850.5 1103 851.8 1118.2 853.2 1131.5C854.4 1143.7 855.6 1156.2 856.9 1168.5C858 1179.3 859 1191.1 860.1 1200.9C860.8 1206.7 861.4 1211.4 862 1217.1C862.5 1221.5 863 1231 863.5 1231C864.1 1231 864.7 1217.2 865.4 1207.8C866 1198.5 866.7 1180.1 867.3 1172.1C868.6 1156.2 869.8 1147.1 871.1 1138.4C872.9 1126.4 874.6 1119.6 876.4 1109.6C877.7 1102.3 878.9 1091.9 880.2 1086.8C881 1083.4 881.9 1078.8 882.7 1078.8C884 1078.8 885.2 1083 886.4 1086.8C887.8 1091 889.1 1100.6 890.5 1109.6C891.8 1118.6 893.2 1129.9 894.5 1142.3C895.5 1151 896.4 1160.6 897.4 1172.1C898.5 1185.4 899.5 1203.3 900.6 1219.7C901.5 1232.6 902.3 1251.8 903.2 1259.4C904.1 1268 905.1 1277.3 906 1277.3C907.1 1277.3 908.1 1266.1 909.2 1258.9C909.9 1254.3 910.5 1249.3 911.2 1242.8C911.9 1236.1 912.6 1226 913.3 1217.5C914 1209.1 914.7 1199.5 915.4 1192.2C916.2 1183.5 917.1 1177.4 917.9 1169.2C919.1 1157.9 920.2 1142.9 921.4 1132.5C922.6 1121.4 923.9 1113.6 925.1 1103.7C926.7 1090.8 928.3 1070.8 929.9 1063.5C931.6 1055.6 933.3 1047.4 935 1047.4C936.5 1047.4 938 1054.8 939.6 1061.2C941.2 1067.8 942.8 1080.6 944.4 1093.4C945.7 1104.1 947 1119.2 948.4 1132.5C949.6 1144.6 950.8 1156.9 952.1 1169.2C953.1 1179.9 954.2 1191.7 955.3 1201.4C955.9 1207.2 956.6 1211.8 957.2 1217.5C957.7 1221.8 958.1 1231.3 958.6 1231.3C959.3 1231.3 959.9 1216.9 960.5 1207.3C961.2 1197.7 961.8 1179.3 962.5 1171.3C963.7 1155.3 965 1146.1 966.3 1137.3C968 1125.3 969.8 1118.4 971.5 1108.3C972.8 1101 974.1 1090.5 975.4 1085.3C976.2 1081.9 977.1 1077.3 977.9 1077.3C979.1 1077.3 980.4 1081.5 981.6 1085.3C982.9 1089.6 984.3 1099.3 985.6 1108.3C987 1117.4 988.4 1128.8 989.7 1141.3C990.7 1150.1 991.6 1159.7 992.5 1171.3C993.6 1184.7 994.7 1202.8 995.8 1219.3C996.6 1232.2 997.5 1251.7 998.3 1259.3C999.3 1268 1000.2 1277.3 1001.2 1277.3C1002.5 1277.3 1003.7 1266.9 1005 1259C1005.7 1254.9 1006.3 1249.4 1007 1243C1007.7 1236.3 1008.4 1226.3 1009.1 1217.9C1009.8 1209.5 1010.5 1200 1011.2 1192.8C1012 1184.1 1012.8 1178 1013.6 1169.9C1014.8 1158.6 1016 1143.9 1017.2 1133.4C1018.4 1122.5 1019.6 1114.7 1020.8 1104.8C1022.4 1092 1024 1072.1 1025.6 1064.9C1027.3 1057.1 1029 1048.9 1030.8 1048.9C1032.3 1048.9 1033.8 1056.3 1035.3 1062.6C1036.9 1069.2 1038.5 1081.8 1040.1 1094.6C1041.4 1105.1 1042.8 1120.3 1044.1 1133.4C1045.3 1145.5 1046.5 1157.7 1047.7 1169.9C1048.8 1180.6 1049.9 1192.3 1050.9 1201.9C1051.6 1207.7 1052.2 1212.2 1052.8 1217.9C1053.3 1222.2 1053.8 1231.6 1054.3 1231.6C1055.1 1231.6 1055.9 1217.8 1056.7 1207.1C1057.3 1198.5 1057.9 1179 1058.6 1170.9C1059.8 1154.8 1061.1 1145.6 1062.4 1136.8C1064.2 1124.7 1065.9 1117.8 1067.7 1107.7C1068.9 1100.3 1070.2 1089.8 1071.5 1084.6C1072.3 1081.2 1073.2 1076.6 1074 1076.6C1075.2 1076.6 1076.5 1080.8 1077.7 1084.6C1079.1 1088.9 1080.4 1098.6 1081.8 1107.7C1083.1 1116.8 1084.5 1128.2 1085.8 1140.8C1086.8 1149.6 1087.7 1159.3 1088.7 1170.9C1089.7 1184.3 1090.8 1202.5 1091.9 1219.1C1092.7 1232 1093.6 1251.6 1094.4 1259.2C1095.4 1267.9 1096.3 1277.3 1097.3 1277.3C1098.5 1277.3 1099.6 1266.6 1100.8 1259.1C1101.5 1254.9 1102.1 1249.5 1102.8 1243.2C1103.4 1236.4 1104.1 1226.5 1104.8 1218.1C1105.5 1209.8 1106.2 1200.3 1106.9 1193.1C1107.7 1184.4 1108.5 1178.3 1109.4 1170.3C1110.6 1158.9 1111.7 1144.4 1112.9 1133.9C1114.1 1123.1 1115.3 1115.2 1116.5 1105.4C1118.1 1092.6 1119.7 1072.8 1121.3 1065.6C1123.1 1057.8 1124.8 1049.6 1126.5 1049.6C1128 1049.6 1129.6 1057 1131.1 1063.3C1132.7 1069.9 1134.3 1082.4 1135.9 1095.2C1137.2 1105.6 1138.5 1120.9 1139.8 1133.9C1141 1145.9 1142.2 1158.1 1143.4 1170.3C1144.5 1180.9 1145.5 1192.6 1146.6 1202.2C1147.2 1208 1147.8 1212.4 1148.5 1218.1C1149 1222.4 1149.4 1231.8 1149.9 1231.8C1150.7 1231.8 1151.5 1217.6 1152.3 1206.8C1152.9 1198.1 1153.6 1178.6 1154.2 1170.5C1155.5 1154.4 1156.8 1145.1 1158 1136.3C1159.8 1124.1 1161.5 1117.3 1163.3 1107.1C1164.6 1099.7 1165.8 1089.1 1167.1 1083.9C1168 1080.5 1168.8 1075.8 1169.7 1075.8C1170.9 1075.8 1172.1 1080.1 1173.3 1083.9C1174.7 1088.2 1176 1098 1177.4 1107.1C1178.8 1116.2 1180.1 1127.6 1181.5 1140.3C1182.4 1149.1 1183.3 1158.9 1184.3 1170.5C1185.4 1184 1186.5 1202.2 1187.5 1218.9C1188.4 1231.9 1189.2 1251.5 1190.1 1259.2C1191 1267.9 1192 1277.3 1192.9 1277.3C1194.1 1277.3 1195.3 1266.7 1196.5 1259.1C1197.1 1255 1197.7 1249.5 1198.4 1243.3C1199.1 1236.5 1199.8 1226.6 1200.4 1218.3C1201.1 1210 1201.8 1200.6 1202.5 1193.3C1203.3 1184.7 1204.1 1178.5 1205 1170.6C1206.1 1159.1 1207.3 1144.9 1208.5 1134.3C1209.7 1123.7 1210.9 1115.7 1212.1 1106C1213.7 1093.1 1215.3 1073.4 1216.9 1066.3C1218.7 1058.5 1220.4 1050.4 1222.1 1050.4C1223.7 1050.4 1225.2 1057.8 1226.7 1064C1228.3 1070.6 1229.9 1082.9 1231.5 1095.8C1232.8 1106.1 1234 1121.4 1235.3 1134.3C1236.5 1146.4 1237.7 1158.5 1238.9 1170.6C1240 1181.2 1241 1193 1242.1 1202.4C1242.7 1208.2 1243.3 1212.6 1244 1218.3C1244.4 1222.6 1244.9 1221.1 1245.4 1231.9C1245.5 1233 1245.5 1247 1245.5 1247C1246.3 1247 1247.1 1220.8 1247.9 1206.5C1248.6 1195.1 1249.2 1178.2 1249.9 1170.1C1251.1 1153.9 1252.4 1144.6 1253.7 1135.8C1255.4 1123.5 1257.2 1116.7 1258.9 1106.4C1260.2 1099 1261.5 1088.4 1262.8 1083.2C1263.6 1079.7 1264.5 1075.1 1265.3 1075.1C1266.5 1075.1 1267.8 1079.3 1269 1083.2C1270.3 1087.5 1271.7 1097.3 1273 1106.4C1274.4 1115.6 1275.8 1127.1 1277.1 1139.8C1278 1148.6 1279 1158.4 1279.9 1170.1C1281 1183.6 1282.1 1201.9 1283.2 1218.7C1284 1231.7 1284.9 1251.4 1285.7 1259.1C1286.7 1267.9 1287.6 1277.3 1288.6 1277.3C1289.8 1277.3 1291.1 1267 1292.3 1259.1C1293 1255.1 1293.6 1249.5 1294.2 1243.3C1294.9 1236.5 1295.6 1226.6 1296.3 1218.3C1297 1210 1297.7 1200.6 1298.3 1193.3C1299.2 1184.7 1300 1178.5 1300.8 1170.6C1302 1159.1 1303.2 1145 1304.4 1134.3C1305.6 1123.7 1306.8 1115.7 1308 1106C1309.5 1093.1 1311.1 1073.4 1312.7 1066.3C1314.5 1058.4 1316.2 1050.4 1318 1050.4C1319.5 1050.4 1321 1057.8 1322.5 1064C1324.1 1070.6 1325.7 1082.9 1327.3 1095.8C1328.6 1106.1 1329.9 1121.5 1331.1 1134.3C1332.3 1146.4 1333.5 1158.5 1334.7 1170.6C1335.8 1181.2 1336.8 1193 1337.8 1202.4C1338.5 1208.2 1339.1 1212.6 1339.8 1218.3C1340.2 1222.6 1340.7 1224.3 1341.2 1231.9C1341.3 1234.5 1341.5 1247 1341.7 1247C1342.5 1247 1343.3 1220.8 1344.1 1206.5C1344.7 1195.1 1345.3 1178.2 1346 1170.1C1347.2 1153.9 1348.5 1144.6 1349.8 1135.8C1351.5 1123.5 1353.3 1116.7 1355.1 1106.4C1356.3 1099 1357.6 1088.4 1358.9 1083.2C1359.7 1079.7 1360.6 1075.1 1361.4 1075.1C1362.6 1075.1 1363.9 1079.3 1365.1 1083.2C1366.5 1087.5 1367.8 1097.3 1369.2 1106.4C1370.5 1115.6 1371.9 1127.1 1373.2 1139.8C1374.2 1148.6 1375.1 1158.4 1376 1170.1C1377.1 1183.6 1378.2 1201.9 1379.3 1218.7C1380.1 1231.7 1381 1251.4 1381.8 1259.1C1382.8 1267.9 1383.7 1277.3 1384.7 1277.3C1385.8 1277.3 1386.9 1266.5 1388 1259.1C1388.6 1254.8 1389.2 1249.5 1389.9 1243.3C1390.6 1236.5 1391.2 1226.6 1391.9 1218.3C1392.6 1210 1393.3 1200.6 1394 1193.3C1394.8 1184.7 1395.6 1178.5 1396.4 1170.6C1397.6 1159.1 1398.8 1145 1400 1134.3C1401 1125.5 1402 1118.4 1403 1110.7" stroke="#4DBEEE"/>
<path d="M184.9 1277.3L186.3 1277.3C186.8 1277.3 187.3 1217.4 187.8 1187.4C188.5 1142.5 189.2 1077 189.9 1052.6C191.4 1001.3 192.9 975.4 194.5 955.3C196.5 928.8 198.4 899.1 200.4 899.1C202.1 899.1 203.8 944 205.5 944C207.4 944 209.4 905.4 211.3 866.9C213.4 826.2 215.4 670.5 217.5 620C218.6 593 219.7 571.7 220.8 558.4C221.6 548.1 222.5 535.1 223.3 535.1C224.2 535.1 225.1 547.2 226 558.4C226.9 569.7 227.9 600 228.8 620C230.8 662.4 232.7 707 234.7 743.3C237.2 789.7 239.7 832.8 242.2 866.9C245.4 910.8 248.6 943 251.8 977.7C254.2 1003 256.5 1014.8 258.9 1049.6C260.7 1076.4 262.5 1155.3 264.3 1187.4C265.7 1213 267.2 1238.6 268.6 1247.3C271 1261.9 273.4 1270.6 275.8 1273.6C277.4 1275.5 278.9 1277.3 280.5 1277.3L304 1277.3C307.3 1269.9 310.7 1252.2 314 1232.4C316.4 1218.2 318.8 1197 321.2 1172.5C323.1 1152.8 325 1131.1 326.9 1097.6C328 1078 329.2 1041.4 330.3 1015.2C331 998.3 331.7 966.5 332.4 966.5C333.1 966.5 333.9 989.9 334.6 1007.7C335.5 1031.4 336.5 1082.4 337.4 1112.5C338.7 1152.8 340 1197.9 341.3 1217.4C342.7 1239.3 344.1 1256.8 345.6 1262.3C347.8 1270.9 350 1277.3 352.3 1277.3L378.5 1277.3C379.7 1267.7 380.8 1258.3 382 1249.4C383.3 1239.7 384.6 1231.6 385.8 1221.5C387.1 1211.6 388.4 1203 389.6 1189.1C390.6 1178.6 391.5 1163 392.5 1146.2C393.4 1130.8 394.2 1104.8 395.1 1090.4C396.6 1066.8 398 1046.7 399.4 1034.6C400.8 1022.7 402.3 1013 403.7 1008.1C405 1003.4 406.4 998.3 407.7 998.3C409.3 998.3 410.9 1004.3 412.5 1009.5C414 1014.6 415.6 1023 417.2 1034.6C418.6 1045.5 420.1 1063.7 421.6 1087.6C422.8 1107.9 424 1164.2 425.3 1179.1C426.6 1194.6 427.9 1201.7 429.2 1209.8C430.8 1220.1 432.5 1226 434.1 1234.9C435 1239.7 435.9 1246 436.8 1250.2C437.9 1255.4 439 1260.9 440.1 1263.5C442.4 1269 444.7 1272.6 447 1274.3C448.9 1275.8 450.8 1277.3 452.8 1277.3L474.6 1277.3C475.7 1266.9 476.8 1257 478 1247.7C479.2 1237.2 480.5 1229 481.8 1218.1C483 1207.9 484.2 1198.3 485.4 1183.8C486.3 1172.3 487.3 1156.1 488.3 1138.3C489.1 1121.9 490 1094.4 490.9 1079.1C492.3 1054.1 493.8 1033.1 495.2 1019.9C496.5 1007.5 497.9 996.9 499.3 991.8C500.6 986.8 502 981.5 503.3 981.5C504.9 981.5 506.4 987.8 507.9 993.3C509.3 998.6 510.8 1007.4 512.2 1019.9C513.5 1031.2 514.8 1052.4 516.1 1076.1C517.2 1096.9 518.3 1140.2 519.5 1160C520.5 1178.6 521.6 1191.8 522.6 1203.5C523.8 1216.3 524.9 1226.7 526.1 1235.6C526.9 1241.8 527.7 1247.5 528.5 1251.9C529.5 1257.2 530.4 1262.8 531.4 1265.3C533.3 1270.1 535.3 1273.3 537.2 1274.6C539.3 1276 541.4 1277.3 543.4 1277.3L570.6 1277.3C571.7 1266.4 572.8 1256 574 1246.2C575.2 1235.2 576.5 1226.6 577.8 1215.1C579 1204.3 580.2 1194.3 581.4 1179.1C582.4 1167.1 583.3 1150 584.3 1131.2C585.2 1114 586.1 1085.1 586.9 1069.1C588.4 1042.8 589.8 1020.6 591.2 1006.9C592.6 993.8 594 982.7 595.3 977.4C596.7 972.1 598 966.5 599.4 966.5C600.9 966.5 602.5 973.1 604 978.9C605.5 984.5 606.9 993.7 608.4 1006.9C609.7 1018.8 611 1040.7 612.3 1066C613.5 1087.9 614.6 1136 615.8 1156.3C616.9 1175.6 617.9 1188.4 619 1200.2C620.3 1213.4 621.5 1223.4 622.7 1233C623.6 1239.3 624.4 1245.4 625.2 1250.1C626.2 1255.7 627.2 1261.6 628.2 1264.2C630.1 1269.5 632.1 1272.9 634.1 1274.4C636.2 1275.9 638.2 1277.3 640.3 1277.3L666 1277.3C667.1 1266.1 668.3 1255.3 669.4 1245.2C670.7 1233.9 672 1224.9 673.2 1213.2C674.5 1202 675.7 1191.8 676.9 1176C677.9 1163.7 678.8 1146 679.8 1126.7C680.6 1108.9 681.5 1079.1 682.4 1062.5C683.8 1035.5 685.3 1012.5 686.7 998.4C688.1 984.9 689.5 973.5 690.8 968C692.2 962.6 693.5 956.8 694.9 956.8C696.4 956.8 698 963.6 699.5 969.6C701 975.4 702.5 984.9 704 998.4C705.3 1010.7 706.6 1033 708 1059.3C709.2 1082.1 710.3 1134.5 711.5 1154.7C712.6 1174.4 713.7 1186.6 714.9 1198.1C716.2 1211.4 717.5 1221 718.8 1231C719.6 1237.3 720.5 1243.8 721.3 1248.6C722.3 1254.5 723.3 1260.6 724.3 1263.3C726.4 1269 728.4 1272.6 730.5 1274.2C732.5 1275.8 734.5 1277.3 736.6 1277.3L761.6 1277.3C762.7 1265.9 763.9 1254.9 765 1244.5C766.3 1233 767.5 1223.7 768.8 1211.7C770.1 1200.2 771.3 1189.8 772.5 1173.6C773.5 1161.1 774.4 1142.9 775.4 1123.1C776.3 1105 777.1 1074.4 778 1057.5C779.4 1029.8 780.9 1006.3 782.3 991.9C783.7 978 785.1 966.4 786.5 960.8C787.8 955.2 789.2 949.3 790.5 949.3C792.1 949.3 793.6 956.3 795.2 962.4C796.7 968.3 798.2 978.1 799.7 991.9C801.1 1004.6 802.4 1027 803.8 1054.2C805 1077.7 806.2 1134.2 807.3 1154.2C808.5 1174 809.7 1185.5 810.8 1196.6C812.2 1210 813.6 1219 815 1229.4C815.9 1235.6 816.7 1242.4 817.6 1247.4C818.6 1253.4 819.6 1259.7 820.6 1262.6C822.7 1268.5 824.9 1272.3 827 1274.1C829 1275.7 831 1277.3 833 1277.3L857.1 1277.3C858.3 1265.7 859.4 1254.6 860.6 1244C861.9 1232.4 863.1 1222.8 864.4 1210.7C865.6 1199 866.9 1188.5 868.1 1172.1C869.1 1159.4 870 1140.9 871 1120.8C871.9 1102.4 872.7 1071.4 873.6 1054.2C875.1 1026.1 876.5 1002.2 877.9 987.6C879.3 973.5 880.7 961.8 882.1 956C883.5 950.4 884.8 944.3 886.2 944.3C887.7 944.3 889.3 951.5 890.8 957.7C892.4 963.7 893.9 973.6 895.4 987.6C896.8 1000.5 898.2 1022.9 899.6 1050.9C900.8 1074.8 902 1135.1 903.2 1154.7C904.4 1174.4 905.6 1185 906.8 1195.8C908.3 1209 909.8 1217.5 911.2 1228C912.1 1234.2 913 1241.3 913.8 1246.4C914.9 1252.5 915.9 1258.9 917 1261.9C919.1 1268.1 921.3 1272.1 923.5 1274C925.4 1275.7 927.4 1277.3 929.4 1277.3L952.2 1277.3C953.4 1265.7 954.5 1254.4 955.7 1243.7C957 1232.1 958.2 1222.3 959.5 1210.2C960.8 1198.3 962 1187.9 963.3 1171.3C964.2 1158.5 965.2 1139.9 966.1 1119.6C967 1101.1 967.9 1069.8 968.8 1052.5C970.2 1024.2 971.6 1000 973.1 985.4C974.5 971.1 975.9 959.4 977.3 953.5C978.6 947.9 980 941.8 981.3 941.8C982.9 941.8 984.5 949 986 955.2C987.6 961.3 989.1 971.4 990.7 985.4C992.1 998.5 993.5 1020.7 994.9 1049.2C996.2 1073.4 997.4 1137.1 998.6 1156.1C999.8 1175.5 1001.1 1185.2 1002.3 1195.6C1003.9 1208.5 1005.4 1216.4 1007 1227.1C1007.9 1233.1 1008.7 1240.4 1009.6 1245.5C1010.7 1251.7 1011.7 1258.2 1012.8 1261.3C1015 1267.7 1017.2 1271.9 1019.5 1273.8C1021.4 1275.6 1023.4 1277.3 1025.4 1277.3L1048.2 1277.3C1049.4 1265.7 1050.6 1254.4 1051.8 1243.6C1053 1231.9 1054.3 1222 1055.6 1209.9C1056.8 1197.9 1058.1 1187.6 1059.3 1170.8C1060.3 1158 1061.3 1139.2 1062.2 1118.9C1063.1 1100.3 1064 1068.9 1064.8 1051.5C1066.3 1023.1 1067.7 998.7 1069.1 984.1C1070.6 969.7 1072 958 1073.4 952.1C1074.8 946.4 1076.1 940.3 1077.5 940.3C1079 940.3 1080.6 947.5 1082.2 953.8C1083.7 960 1085.3 970 1086.9 984.1C1088.3 997.3 1089.8 1019.3 1091.2 1048.1C1092.5 1072.6 1093.7 1139.7 1094.9 1158C1096.2 1176.9 1097.5 1185.7 1098.8 1195.6C1100.4 1208.2 1102 1215.5 1103.7 1226.3C1104.6 1232.2 1105.5 1239.6 1106.3 1244.8C1107.4 1251 1108.5 1257.6 1109.6 1260.7C1111.9 1267.3 1114.1 1271.7 1116.4 1273.8C1118.4 1275.5 1120.3 1277.3 1122.3 1277.3L1143.8 1277.3C1145 1265.6 1146.1 1254.3 1147.3 1243.4C1148.6 1231.8 1149.9 1221.8 1151.2 1209.6C1152.4 1197.5 1153.7 1187.2 1155 1170.3C1155.9 1157.6 1156.9 1138.6 1157.8 1118.2C1158.7 1099.5 1159.6 1068 1160.5 1050.5C1161.9 1021.9 1163.3 997.4 1164.8 982.8C1166.2 968.3 1167.6 956.6 1169 950.6C1170.4 945 1171.7 938.8 1173.1 938.8C1174.7 938.8 1176.3 946.1 1177.9 952.3C1179.4 958.6 1181 968.7 1182.6 982.8C1184.1 996.1 1185.6 1017.9 1187 1047.1C1188.3 1071.8 1189.6 1142.3 1190.8 1159.8C1192.1 1178.2 1193.4 1186.2 1194.8 1195.7C1196.5 1207.9 1198.2 1214.6 1199.9 1225.4C1200.8 1231.2 1201.7 1238.8 1202.6 1244C1203.7 1250.3 1204.8 1257 1205.9 1260.2C1208.2 1267 1210.6 1271.5 1212.9 1273.7C1214.8 1275.5 1216.8 1277.3 1218.7 1277.3L1239.3 1277.3C1240.5 1265.6 1241.7 1254.3 1242.9 1243.4C1244.2 1231.7 1245.5 1221.6 1246.7 1209.4C1248 1197.3 1249.3 1187.1 1250.6 1170.1C1251.5 1157.4 1252.5 1138.3 1253.4 1117.9C1254.3 1099.1 1255.2 1067.5 1256.1 1050C1257.5 1021.4 1258.9 996.7 1260.4 982.2C1261.8 967.6 1263.2 955.9 1264.7 949.9C1266 944.3 1267.4 938 1268.7 938C1270.3 938 1271.9 945.4 1273.5 951.6C1275.1 957.9 1276.7 968.1 1278.3 982.2C1279.8 995.5 1281.3 1017.1 1282.8 1046.6C1284.1 1071.5 1285.4 1145.2 1286.7 1162C1288 1179.8 1289.4 1186.9 1290.7 1195.9C1292.5 1207.7 1294.3 1213.9 1296.1 1224.7C1297 1230.3 1297.9 1238.1 1298.9 1243.4C1300 1249.7 1301.1 1256.4 1302.2 1259.7C1304.6 1266.7 1307 1271.3 1309.4 1273.6C1311.3 1275.4 1313.2 1277.3 1315.1 1277.3L1335.4 1277.3C1336.6 1265.6 1337.8 1254.3 1339 1243.4C1340.3 1231.7 1341.6 1221.6 1342.9 1209.4C1344.1 1197.3 1345.4 1187.1 1346.7 1170.1C1347.6 1157.4 1348.6 1138.3 1349.6 1117.9C1350.4 1099.1 1351.3 1067.5 1352.2 1050C1353.6 1021.4 1355.1 996.7 1356.5 982.2C1357.9 967.6 1359.4 955.9 1360.8 949.9C1362.1 944.3 1363.5 938 1364.9 938C1366.5 938 1368 945.4 1369.6 951.6C1371.2 957.9 1372.8 968.1 1374.4 982.2C1375.9 995.5 1377.5 1017.1 1379 1046.6C1380.2 1071.5 1381.5 1145.2 1382.8 1162C1384.1 1179.8 1385.5 1186.9 1386.9 1195.9C1388.6 1207.7 1390.4 1213.9 1392.2 1224.7C1393.1 1230.3 1394.1 1238.1 1395 1243.4C1396.1 1249.7 1397.2 1256.4 1398.3 1259.7C1399.9 1264.2 1401.4 1267.8 1403 1270.3" stroke="#A2142F"/>
<path d="M184.9 1254.8C185.4 1249.2 185.9 1243.6 186.3 1243.6C187.5 1243.6 188.6 1258.2 189.7 1262.3C191.3 1268.2 192.9 1273.8 194.5 1275.1C196.1 1276.3 197.7 1277.3 199.2 1277.3L255.5 1277.3C258.3 1240.1 261.1 1208.1 263.9 1183.3C266.1 1163.5 268.4 1142.8 270.6 1133.5C273.9 1119.7 277.2 1109.4 280.5 1105.8C282.2 1103.9 283.9 1102.1 285.6 1102.1C289.5 1102.1 293.4 1130.1 297.3 1150C300.6 1167.1 304 1199.1 307.3 1216.6C309.9 1230 312.4 1241.9 315 1250.3C316.2 1254.5 317.5 1258.3 318.8 1260.8C319.6 1262.4 320.4 1264.6 321.2 1264.6C322.3 1264.6 323.4 1261.4 324.5 1259.3C325.8 1256.9 327.1 1254 328.4 1250.3C329.3 1247.6 330.3 1245.2 331.2 1239.9C332.5 1232.7 333.8 1206.1 335.1 1187.4C336.2 1171.1 337.3 1153.3 338.4 1135C339.3 1120.7 340.2 1107.5 341 1090.1C341.9 1072.6 342.8 1049.9 343.7 1027.2C345.6 977.5 347.5 903.1 349.4 860.2C351 824.4 352.6 789.1 354.2 771.8C355.5 757.1 356.9 740 358.2 740C359.9 740 361.6 754.8 363.3 768C365.5 785.8 367.7 829.2 370 866.9C373 918.1 376 993.2 379 1049.6C381.3 1091.2 383.5 1133.1 385.7 1166.5C387.4 1191.7 389.1 1220.9 390.8 1233.4C393 1249.9 395.3 1261.6 397.5 1266.8C399.8 1272.2 402.1 1277.3 404.4 1277.3L424.1 1277.3C424.9 1271.4 425.7 1264.6 426.5 1256.9C427.7 1246.3 428.8 1238.8 429.9 1219.7C430.5 1208.8 431.2 1178.4 431.8 1160.6C432.8 1133.9 433.7 1112.2 434.7 1088.6C435.6 1065 436.6 1042.3 437.5 1019.1C438.5 995.9 439.4 969 440.4 949.6C441.3 931.8 442.2 918.5 443 903.4C444.2 882.8 445.4 859.2 446.6 842.8C448 824.4 449.3 804.5 450.7 796.7C452 788.8 453.4 780.8 454.7 780.8C456 780.8 457.3 788.4 458.6 796.7C459.7 803.9 460.8 824.4 461.9 842.8C462.9 859.2 463.9 882.4 464.9 903.4C465.7 921.4 466.6 939.5 467.4 959.5C468.2 978 469 1000.6 469.8 1019.1C470.8 1044 471.9 1066.5 472.9 1088.6C474 1112 475.2 1133.7 476.3 1155.7C477.1 1171.3 477.9 1190.4 478.7 1201.8C479.7 1217.4 480.8 1230.3 481.9 1238.1C483.9 1252.6 486 1263.8 488 1268.4C489.7 1272.1 491.3 1275 493 1275.8C494.6 1276.6 496.2 1277.3 497.8 1277.3L519.8 1277.3C520.6 1271.6 521.4 1265.1 522.2 1257.9C523.3 1247.6 524.4 1240.5 525.5 1222.3C526.1 1211.9 526.7 1182.9 527.4 1165.9C528.3 1140.4 529.3 1119.7 530.2 1097.2C531.2 1074.7 532.1 1052.9 533.1 1030.8C534 1008.7 534.9 983.1 535.9 964.4C536.7 947.5 537.6 934.7 538.4 920.3C539.6 900.6 540.8 878 542 862.5C543.3 844.8 544.7 825.9 546 818.4C547.4 810.9 548.7 803.2 550.1 803.2C551.3 803.2 552.6 810.5 553.9 818.4C555 825.3 556.1 844.9 557.2 862.5C558.2 878.1 559.2 900.3 560.2 920.3C561 937.5 561.9 954.8 562.7 973.9C563.5 991.6 564.3 1013.1 565.1 1030.8C566.1 1054.6 567.2 1076.1 568.2 1097.2C569.3 1119.5 570.5 1140.2 571.6 1161.2C572.4 1176.1 573.2 1194.3 574 1205.2C575 1220.1 576.1 1232.4 577.2 1239.8C579.2 1253.7 581.3 1264.4 583.3 1268.8C585 1272.4 586.6 1275.1 588.3 1275.9C589.9 1276.7 591.5 1277.3 593.1 1277.3L616 1277.3C616.8 1271.7 617.5 1265.4 618.3 1258.4C619.4 1248.4 620.5 1241.6 621.6 1223.9C622.2 1213.8 622.9 1185.6 623.5 1169.1C624.4 1144.4 625.4 1124.2 626.3 1102.3C627.2 1080.5 628.2 1059.3 629.1 1037.8C630 1016.4 630.9 991.5 631.9 973.3C632.7 956.9 633.5 944.4 634.4 930.5C635.5 911.2 636.7 889.3 637.9 874.3C639.2 857 640.5 838.8 641.9 831.5C643.2 824.2 644.5 816.7 645.9 816.7C647.2 816.7 648.4 823.8 649.7 831.5C650.8 838.2 651.9 857.2 653.1 874.3C654 889.5 655 911 656 930.5C656.9 947.2 657.7 964 658.6 982.5C659.3 999.7 660.1 1020.6 660.9 1037.8C662 1060.9 663 1081.8 664.1 1102.3C665.2 1124 666.3 1144.1 667.4 1164.5C668.2 1179 669 1196.7 669.8 1207.3C670.9 1221.7 672 1233.7 673 1240.9C675.1 1254.4 677.1 1264.8 679.1 1269C680.8 1272.5 682.5 1275.1 684.1 1275.9C685.7 1276.7 687.3 1277.3 688.9 1277.3L712.1 1277.3C712.9 1271.8 713.6 1265.6 714.4 1258.8C715.5 1248.8 716.6 1242.3 717.7 1224.9C718.3 1215 718.9 1187.3 719.6 1171.1C720.5 1146.9 721.4 1127.1 722.3 1105.6C723.3 1084.2 724.2 1063.4 725.1 1042.3C726 1021.3 726.9 996.9 727.8 979C728.6 963 729.5 950.5 730.3 937C731.4 917.9 732.6 896.5 733.7 881.8C735 864.8 736.4 847 737.7 839.8C739 832.6 740.3 825.3 741.7 825.3C742.9 825.3 744.2 832.3 745.5 839.8C746.6 846.4 747.7 865 748.8 881.8C749.8 896.7 750.8 917.8 751.8 937C752.7 953.3 753.5 969.8 754.3 988C755.1 1004.9 755.9 1025.4 756.7 1042.3C757.7 1065 758.8 1085.5 759.8 1105.6C761 1126.9 762.1 1146.6 763.2 1166.6C764 1180.8 764.8 1198.2 765.6 1208.6C766.7 1222.7 767.7 1234.5 768.8 1241.6C770.9 1254.8 772.9 1265 774.9 1269.2C776.6 1272.6 778.3 1275.2 779.9 1275.9C781.5 1276.7 783.1 1277.3 784.7 1277.3L808.4 1277.3C809.1 1271.8 809.8 1265.7 810.6 1259C811.7 1249.1 812.8 1242.8 813.9 1225.5C814.5 1215.8 815.1 1188.4 815.7 1172.4C816.6 1148.5 817.6 1129.1 818.5 1107.7C819.4 1086.7 820.3 1066.1 821.2 1045.2C822.1 1024.5 823 1000.5 823.9 982.7C824.7 966.9 825.5 954.5 826.3 941.2C827.4 922.3 828.5 901.2 829.6 886.7C831 869.9 832.3 852.3 833.6 845.2C834.9 838.2 836.2 831 837.5 831C838.8 831 840.1 837.8 841.4 845.2C842.5 851.7 843.6 870.2 844.7 886.7C845.7 901.4 846.7 922.3 847.7 941.2C848.5 957.4 849.4 973.6 850.2 991.6C851 1008.3 851.8 1028.6 852.6 1045.2C853.6 1067.6 854.7 1087.8 855.7 1107.7C856.8 1128.7 858 1148.2 859.1 1167.9C859.9 1182 860.7 1199.2 861.5 1209.5C862.5 1223.4 863.6 1235.1 864.7 1242C866.7 1255.1 868.8 1265.2 870.8 1269.3C872.5 1272.6 874.1 1275.2 875.8 1276C877.4 1276.7 879 1277.3 880.6 1277.3L903.9 1277.3C904.6 1271.8 905.3 1265.8 906.1 1259.2C907.2 1249.3 908.2 1243.1 909.3 1226C909.9 1216.4 910.6 1189.2 911.2 1173.3C912.1 1149.6 913 1130.4 913.9 1109.1C914.8 1088.3 915.7 1067.9 916.6 1047.1C917.4 1026.6 918.3 1002.9 919.2 985.2C920 969.6 920.8 957.2 921.5 944C922.6 925.2 923.7 904.3 924.9 890C926.2 873.3 927.5 855.9 928.8 848.9C930.1 841.8 931.4 834.7 932.7 834.7C934 834.7 935.3 841.5 936.5 848.9C937.7 855.3 938.8 873.6 939.9 890C940.9 904.6 941.9 925.3 942.8 944C943.7 960 944.5 976.2 945.4 994C946.2 1010.5 946.9 1030.7 947.7 1047.1C948.8 1069.4 949.8 1089.4 950.9 1109.1C952 1130 953.1 1149.3 954.2 1168.9C955 1182.8 955.8 1199.8 956.6 1210C957.7 1223.9 958.8 1235.4 959.9 1242.3C961.9 1255.3 963.9 1265.3 965.9 1269.3C967.6 1272.7 969.3 1275.2 971 1276C972.6 1276.7 974.2 1277.3 975.7 1277.3L999.9 1277.3C1000.6 1271.8 1001.3 1265.8 1002 1259.2C1003.1 1249.4 1004.2 1243.3 1005.3 1226.2C1005.9 1216.7 1006.5 1189.6 1007.1 1173.8C1008 1150.2 1008.9 1131.1 1009.8 1110C1010.7 1089.3 1011.5 1069 1012.4 1048.3C1013.3 1027.9 1014.1 1004.4 1015 986.7C1015.8 971.2 1016.5 958.7 1017.3 945.7C1018.4 926.8 1019.5 906.1 1020.6 892C1021.9 875.3 1023.2 858 1024.5 851C1025.8 844 1027.1 836.9 1028.3 836.9C1029.6 836.9 1030.9 843.7 1032.2 851C1033.3 857.4 1034.4 875.6 1035.5 892C1036.5 906.5 1037.5 927.1 1038.5 945.7C1039.3 961.7 1040.2 977.7 1041 995.5C1041.8 1011.9 1042.6 1031.9 1043.4 1048.3C1044.4 1070.4 1045.5 1090.4 1046.5 1110C1047.6 1130.7 1048.8 1150 1049.9 1169.4C1050.7 1183.3 1051.5 1200.2 1052.3 1210.4C1053.3 1224.1 1054.4 1235.6 1055.5 1242.5C1057.5 1255.4 1059.6 1265.3 1061.6 1269.4C1063.3 1272.7 1064.9 1275.2 1066.6 1276C1068.2 1276.7 1069.8 1277.3 1071.4 1277.3L1095.9 1277.3C1096.6 1271.8 1097.3 1265.8 1098 1259.3C1099.1 1249.4 1100.1 1243.4 1101.2 1226.4C1101.8 1216.9 1102.4 1189.9 1103 1174.2C1103.9 1150.7 1104.8 1131.7 1105.7 1110.5C1106.5 1090 1107.4 1069.7 1108.3 1049.1C1109.1 1028.8 1110 1005.4 1110.8 987.7C1111.6 972.4 1112.3 959.7 1113 946.8C1114.1 927.9 1115.2 907.3 1116.3 893.3C1117.5 876.6 1118.8 859.5 1120.1 852.5C1121.4 845.5 1122.7 838.4 1124 838.4C1125.3 838.4 1126.5 845.2 1127.8 852.5C1128.9 858.9 1130 877 1131.2 893.3C1132.2 907.7 1133.1 928.3 1134.1 946.8C1135 962.7 1135.8 978.7 1136.7 996.4C1137.4 1012.8 1138.2 1032.7 1139 1049.1C1140.1 1071.1 1141.1 1091 1142.2 1110.5C1143.3 1131.2 1144.4 1150.4 1145.5 1169.8C1146.3 1183.6 1147.1 1200.5 1147.9 1210.6C1149 1224.3 1150.1 1235.8 1151.2 1242.6C1153.2 1255.5 1155.2 1265.4 1157.2 1269.4C1158.9 1272.7 1160.6 1275.2 1162.2 1276C1163.8 1276.7 1165.4 1277.3 1167 1277.3L1191.7 1277.3C1192.4 1271.8 1193.1 1265.8 1193.8 1259.4C1194.9 1249.4 1195.9 1243.6 1197 1226.6C1197.6 1217.2 1198.2 1190.2 1198.8 1174.5C1199.7 1151.1 1200.5 1132.2 1201.4 1111.1C1202.3 1090.7 1203.1 1070.5 1204 1049.9C1204.8 1029.6 1205.7 1006.5 1206.5 988.6C1207.2 973.5 1207.9 960.7 1208.6 948C1209.7 929 1210.7 908.5 1211.8 894.6C1213.1 877.9 1214.4 860.9 1215.6 853.9C1216.9 847 1218.2 839.9 1219.5 839.9C1220.8 839.9 1222 846.7 1223.3 853.9C1224.4 860.3 1225.5 878.4 1226.7 894.6C1227.6 909 1228.6 929.5 1229.6 948C1230.5 963.8 1231.3 979.8 1232.2 997.4C1232.9 1013.7 1233.7 1033.6 1234.5 1049.9C1235.6 1071.8 1236.6 1091.7 1237.7 1111.1C1238.8 1131.7 1239.9 1150.8 1241 1170.1C1241.8 1183.9 1242.6 1200.8 1243.4 1210.8C1244.5 1224.5 1245.6 1235.9 1246.6 1242.7C1248.7 1255.5 1250.7 1265.4 1252.7 1269.4C1254.4 1272.7 1256.1 1275.2 1257.7 1276C1259.3 1276.7 1260.9 1277.3 1262.5 1277.3L1287.7 1277.3C1288.4 1271.7 1289 1265.8 1289.7 1259.4C1290.8 1249.4 1291.9 1243.6 1292.9 1226.6C1293.5 1217.2 1294.1 1190.3 1294.7 1174.5C1295.6 1151.1 1296.5 1132.3 1297.3 1111.1C1298.2 1090.7 1299 1070.5 1299.9 1049.9C1300.7 1029.7 1301.5 1006.5 1302.4 988.6C1303.1 973.5 1303.8 960.7 1304.5 948C1305.5 928.9 1306.6 908.4 1307.6 894.6C1308.9 877.8 1310.2 860.9 1311.4 853.9C1312.7 847 1314 839.9 1315.3 839.9C1316.5 839.9 1317.8 846.7 1319.1 853.9C1320.2 860.3 1321.3 878.4 1322.4 894.6C1323.4 909 1324.4 929.5 1325.4 948C1326.3 963.8 1327.1 979.8 1327.9 997.4C1328.7 1013.7 1329.5 1033.6 1330.3 1049.9C1331.3 1071.8 1332.4 1091.7 1333.4 1111.1C1334.6 1131.7 1335.7 1150.8 1336.8 1170.1C1337.6 1183.9 1338.4 1200.8 1339.2 1210.8C1340.3 1224.5 1341.3 1235.9 1342.4 1242.7C1344.5 1255.5 1346.5 1265.4 1348.5 1269.4C1350.2 1272.7 1351.9 1275.2 1353.5 1276C1355.1 1276.7 1356.7 1277.3 1358.3 1277.3L1383.3 1277.3C1384 1271.7 1384.7 1265.8 1385.4 1259.4C1386.4 1249.4 1387.5 1243.6 1388.6 1226.6C1389.2 1217.2 1389.8 1190.3 1390.3 1174.5C1391.2 1151.1 1392.1 1132.3 1393 1111.1C1393.8 1090.7 1394.7 1070.5 1395.5 1049.9C1396.3 1029.7 1397.2 1006.5 1398 988.6C1398.7 973.5 1399.4 960.7 1400.1 948C1401.1 930.5 1402 911.8 1403 898.1" stroke="#0072BD"/>
</g>
<rect x="1125.6" y="170.1" width="250.4" height="531.0" fill="#fff" stroke="#3a3a3a" stroke-width="2.6"/>
<path d="M1140.6 210.4H1298.2" stroke="#0072BD" stroke-width="8" fill="none"/>
<text class="leg" transform="translate(1307.8 222.8) scale(1.34 1)">u</text>
<text class="sub" x="1340.2" y="229.7">1</text>
<path d="M1140.6 274.3H1298.2" stroke="#D95319" stroke-width="8" fill="none"/>
<text class="leg" transform="translate(1307.8 286.7) scale(1.34 1)">u</text>
<text class="sub" x="1340.2" y="293.6">2</text>
<path d="M1140.6 339.9H1298.2" stroke="#EDB120" stroke-width="8" fill="none"/>
<text class="leg" transform="translate(1307.8 352.3) scale(1.34 1)">u</text>
<text class="sub" x="1340.2" y="359.2">3</text>
<path d="M1140.6 403.7H1298.2" stroke="#7E2F8E" stroke-width="8" fill="none"/>
<text class="leg" transform="translate(1307.8 416.1) scale(1.34 1)">u</text>
<text class="sub" x="1340.2" y="423.0">4</text>
<path d="M1140.6 468.8H1298.2" stroke="#77AC30" stroke-width="8" fill="none"/>
<text class="leg" transform="translate(1307.8 481.2) scale(1.34 1)">u</text>
<text class="sub" x="1340.2" y="488.1">5</text>
<path d="M1140.6 532.9H1298.2" stroke="#4DBEEE" stroke-width="8" fill="none"/>
<text class="leg" transform="translate(1307.8 545.3) scale(1.34 1)">u</text>
<text class="sub" x="1340.2" y="552.2">6</text>
<path d="M1140.6 598.5H1298.2" stroke="#A2142F" stroke-width="8" fill="none"/>
<text class="leg" transform="translate(1307.8 610.9) scale(1.34 1)">u</text>
<text class="sub" x="1340.2" y="617.8">7</text>
<path d="M1140.6 662.3H1298.2" stroke="#0072BD" stroke-width="8" fill="none"/>
<text class="leg" transform="translate(1307.8 674.7) scale(1.34 1)">u</text>
<text class="sub" x="1340.2" y="681.6">8</text>
<text class="sans tick" text-anchor="middle" transform="translate(184.2 1352.9) scale(1 1.046)">0</text>
<text class="sans tick" text-anchor="middle" transform="translate(423.1 1352.9) scale(1 1.046)">5</text>
<text class="sans tick" text-anchor="middle" transform="translate(662.1 1352.9) scale(1 1.046)">10</text>
<text class="sans tick" text-anchor="middle" transform="translate(901.1 1352.9) scale(1 1.046)">15</text>
<text class="sans tick" text-anchor="middle" transform="translate(1140.2 1352.9) scale(1 1.046)">20</text>
<text class="sans tick" text-anchor="middle" transform="translate(1379.2 1352.9) scale(1 1.046)">25</text>
<text class="sans tick" text-anchor="end" transform="translate(161.6 1298.2) scale(1 1.046)">0</text>
<text class="sans tick" text-anchor="end" transform="translate(161.6 923.5) scale(1 1.046)">5</text>
<text class="sans tick" text-anchor="end" transform="translate(161.6 548.9) scale(1 1.046)">10</text>
<text class="sans tick" text-anchor="end" transform="translate(161.6 174.2) scale(1 1.046)">15</text>
<text class="sans lab" text-anchor="middle" transform="translate(792.3 1433.4) scale(1 1.03)">Time [s]</text>
<text class="sans lab" text-anchor="middle" transform="translate(75.4 715.6) rotate(-90) scale(1 1.03)">Thrust [N]</text>
<text class="sans title" text-anchor="middle" transform="translate(793.5 87.1) scale(1 1.018)">Thrust Plot</text>
</svg></body></html>
